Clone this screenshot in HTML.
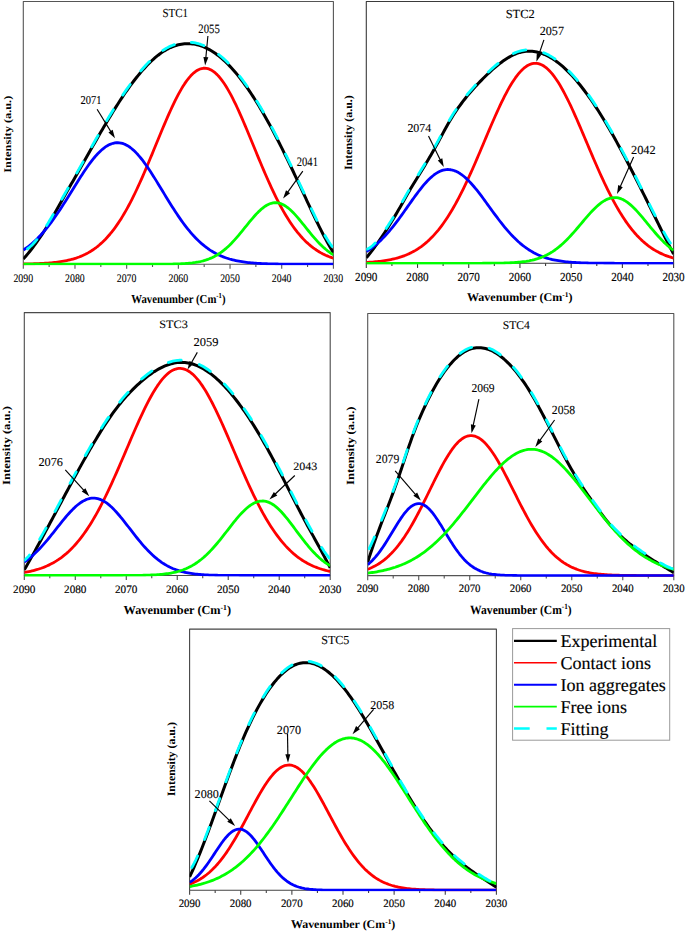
<!DOCTYPE html>
<html><head><meta charset="utf-8"><title>STC spectra</title><style>html,body{margin:0;padding:0;background:#fff;}svg{display:block;}</style></head><body>
<svg width="685" height="931" viewBox="0 0 685 931" style="font-family:'Liberation Serif',serif;text-rendering:geometricPrecision">
<defs>
<clipPath id="clipSTC1"><rect x="23.30" y="-0.50" width="310.10" height="265.80"/></clipPath>
<clipPath id="clipSTC2"><rect x="366.30" y="-0.50" width="307.30" height="264.90"/></clipPath>
<clipPath id="clipSTC3"><rect x="24.30" y="310.60" width="305.90" height="266.00"/></clipPath>
<clipPath id="clipSTC4"><rect x="367.70" y="311.50" width="306.10" height="265.20"/></clipPath>
<clipPath id="clipSTC5"><rect x="189.60" y="627.10" width="306.80" height="264.20"/></clipPath>
</defs>
<rect x="23.30" y="1.50" width="310.10" height="262.70" fill="none" stroke="#555" stroke-width="1.1" stroke-linejoin="round"/>
<line x1="23.30" y1="264.20" x2="23.30" y2="268.80" stroke="#555" stroke-width="1.1"/>
<line x1="49.14" y1="264.20" x2="49.14" y2="267.00" stroke="#555" stroke-width="1.1"/>
<line x1="74.98" y1="264.20" x2="74.98" y2="268.80" stroke="#555" stroke-width="1.1"/>
<line x1="100.82" y1="264.20" x2="100.82" y2="267.00" stroke="#555" stroke-width="1.1"/>
<line x1="126.67" y1="264.20" x2="126.67" y2="268.80" stroke="#555" stroke-width="1.1"/>
<line x1="152.51" y1="264.20" x2="152.51" y2="267.00" stroke="#555" stroke-width="1.1"/>
<line x1="178.35" y1="264.20" x2="178.35" y2="268.80" stroke="#555" stroke-width="1.1"/>
<line x1="204.19" y1="264.20" x2="204.19" y2="267.00" stroke="#555" stroke-width="1.1"/>
<line x1="230.03" y1="264.20" x2="230.03" y2="268.80" stroke="#555" stroke-width="1.1"/>
<line x1="255.87" y1="264.20" x2="255.87" y2="267.00" stroke="#555" stroke-width="1.1"/>
<line x1="281.72" y1="264.20" x2="281.72" y2="268.80" stroke="#555" stroke-width="1.1"/>
<line x1="307.56" y1="264.20" x2="307.56" y2="267.00" stroke="#555" stroke-width="1.1"/>
<line x1="333.40" y1="264.20" x2="333.40" y2="268.80" stroke="#555" stroke-width="1.1"/>
<g clip-path="url(#clipSTC1)" fill="none" stroke-linejoin="round">
<path d="M23.30,259.05 L24.85,257.28 L26.40,255.48 L27.95,253.62 L29.50,251.72 L31.05,249.77 L32.60,247.77 L34.15,245.72 L35.70,243.62 L37.25,241.47 L38.80,239.25 L40.36,236.99 L41.91,234.66 L43.46,232.27 L45.01,229.82 L46.56,227.31 L48.11,224.75 L49.66,222.12 L51.21,219.46 L52.76,216.76 L54.31,214.03 L55.86,211.28 L57.41,208.52 L58.96,205.75 L60.51,202.98 L62.06,200.22 L63.61,197.47 L65.16,194.73 L66.71,192.00 L68.26,189.28 L69.81,186.57 L71.37,183.85 L72.92,181.14 L74.47,178.43 L76.02,175.72 L77.57,173.00 L79.12,170.28 L80.67,167.55 L82.22,164.82 L83.77,162.08 L85.32,159.33 L86.87,156.59 L88.42,153.84 L89.97,151.10 L91.52,148.36 L93.07,145.63 L94.62,142.90 L96.17,140.18 L97.72,137.48 L99.27,134.78 L100.82,132.10 L102.38,129.44 L103.93,126.79 L105.48,124.16 L107.03,121.55 L108.58,118.96 L110.13,116.39 L111.68,113.85 L113.23,111.33 L114.78,108.84 L116.33,106.38 L117.88,103.94 L119.43,101.54 L120.98,99.17 L122.53,96.83 L124.08,94.53 L125.63,92.26 L127.18,90.03 L128.73,87.85 L130.28,85.70 L131.83,83.59 L133.39,81.53 L134.94,79.51 L136.49,77.54 L138.04,75.61 L139.59,73.73 L141.14,71.90 L142.69,70.11 L144.24,68.38 L145.79,66.70 L147.34,65.06 L148.89,63.49 L150.44,61.96 L151.99,60.50 L153.54,59.08 L155.09,57.73 L156.64,56.43 L158.19,55.19 L159.74,54.01 L161.29,52.90 L162.84,51.84 L164.40,50.85 L165.95,49.92 L167.50,49.05 L169.05,48.26 L170.60,47.52 L172.15,46.85 L173.70,46.24 L175.25,45.70 L176.80,45.22 L178.35,44.80 L179.90,44.45 L181.45,44.16 L183.00,43.94 L184.55,43.77 L186.10,43.67 L187.65,43.64 L189.20,43.66 L190.75,43.75 L192.30,43.90 L193.85,44.12 L195.41,44.39 L196.96,44.73 L198.51,45.13 L200.06,45.59 L201.61,46.11 L203.16,46.69 L204.71,47.34 L206.26,48.04 L207.81,48.81 L209.36,49.64 L210.91,50.53 L212.46,51.48 L214.01,52.49 L215.56,53.56 L217.11,54.69 L218.66,55.88 L220.21,57.13 L221.76,58.44 L223.31,59.81 L224.86,61.23 L226.42,62.72 L227.97,64.26 L229.52,65.85 L231.07,67.50 L232.62,69.21 L234.17,70.97 L235.72,72.78 L237.27,74.65 L238.82,76.57 L240.37,78.54 L241.92,80.56 L243.47,82.63 L245.02,84.76 L246.57,86.93 L248.12,89.15 L249.67,91.42 L251.22,93.74 L252.77,96.10 L254.32,98.51 L255.87,100.97 L257.43,103.47 L258.98,106.02 L260.53,108.61 L262.08,111.24 L263.63,113.92 L265.18,116.64 L266.73,119.40 L268.28,122.20 L269.83,125.03 L271.38,127.91 L272.93,130.82 L274.48,133.76 L276.03,136.74 L277.58,139.75 L279.13,142.79 L280.68,145.86 L282.23,148.95 L283.78,152.07 L285.33,155.22 L286.88,158.39 L288.44,161.58 L289.99,164.79 L291.54,168.02 L293.09,171.27 L294.64,174.53 L296.19,177.82 L297.74,181.11 L299.29,184.42 L300.84,187.73 L302.39,191.06 L303.94,194.40 L305.49,197.74 L307.04,201.07 L308.59,204.40 L310.14,207.72 L311.69,211.02 L313.24,214.29 L314.79,217.54 L316.34,220.76 L317.89,223.94 L319.45,227.08 L321.00,230.17 L322.55,233.21 L324.10,236.19 L325.65,239.10 L327.20,241.95 L328.75,244.73 L330.30,247.43 L331.85,250.04 L333.40,252.57" stroke="#000" stroke-width="3.0"/>
<path d="M23.30,264.00 L24.85,263.98 L26.40,263.95 L27.95,263.92 L29.50,263.88 L31.05,263.85 L32.60,263.80 L34.15,263.76 L35.70,263.71 L37.25,263.65 L38.80,263.59 L40.36,263.52 L41.91,263.44 L43.46,263.35 L45.01,263.26 L46.56,263.16 L48.11,263.05 L49.66,262.92 L51.21,262.79 L52.76,262.64 L54.31,262.48 L55.86,262.30 L57.41,262.11 L58.96,261.90 L60.51,261.68 L62.06,261.43 L63.61,261.16 L65.16,260.87 L66.71,260.56 L68.26,260.22 L69.81,259.85 L71.37,259.46 L72.92,259.03 L74.47,258.57 L76.02,258.08 L77.57,257.55 L79.12,256.98 L80.67,256.37 L82.22,255.71 L83.77,255.01 L85.32,254.27 L86.87,253.47 L88.42,252.62 L89.97,251.72 L91.52,250.76 L93.07,249.74 L94.62,248.66 L96.17,247.52 L97.72,246.31 L99.27,245.03 L100.82,243.68 L102.38,242.26 L103.93,240.76 L105.48,239.19 L107.03,237.54 L108.58,235.80 L110.13,233.99 L111.68,232.09 L113.23,230.11 L114.78,228.04 L116.33,225.88 L117.88,223.64 L119.43,221.31 L120.98,218.89 L122.53,216.38 L124.08,213.78 L125.63,211.10 L127.18,208.33 L128.73,205.48 L130.28,202.54 L131.83,199.52 L133.39,196.42 L134.94,193.24 L136.49,189.99 L138.04,186.67 L139.59,183.28 L141.14,179.83 L142.69,176.32 L144.24,172.76 L145.79,169.15 L147.34,165.50 L148.89,161.80 L150.44,158.08 L151.99,154.34 L153.54,150.57 L155.09,146.80 L156.64,143.02 L158.19,139.25 L159.74,135.49 L161.29,131.75 L162.84,128.04 L164.40,124.37 L165.95,120.74 L167.50,117.17 L169.05,113.66 L170.60,110.22 L172.15,106.87 L173.70,103.60 L175.25,100.43 L176.80,97.36 L178.35,94.41 L179.90,91.59 L181.45,88.89 L183.00,86.33 L184.55,83.91 L186.10,81.65 L187.65,79.54 L189.20,77.60 L190.75,75.82 L192.30,74.23 L193.85,72.81 L195.41,71.57 L196.96,70.53 L198.51,69.67 L200.06,69.01 L201.61,68.54 L203.16,68.27 L204.71,68.20 L206.26,68.33 L207.81,68.65 L209.36,69.17 L210.91,69.88 L212.46,70.79 L214.01,71.89 L215.56,73.17 L217.11,74.64 L218.66,76.28 L220.21,78.10 L221.76,80.09 L223.31,82.24 L224.86,84.54 L226.42,87.00 L227.97,89.60 L229.52,92.33 L231.07,95.20 L232.62,98.18 L234.17,101.27 L235.72,104.47 L237.27,107.76 L238.82,111.14 L240.37,114.60 L241.92,118.13 L243.47,121.71 L245.02,125.35 L246.57,129.04 L248.12,132.76 L249.67,136.50 L251.22,140.26 L252.77,144.04 L254.32,147.82 L255.87,151.59 L257.43,155.35 L258.98,159.09 L260.53,162.80 L262.08,166.48 L263.63,170.13 L265.18,173.72 L266.73,177.27 L268.28,180.77 L269.83,184.20 L271.38,187.57 L272.93,190.87 L274.48,194.10 L276.03,197.26 L277.58,200.34 L279.13,203.34 L280.68,206.25 L282.23,209.08 L283.78,211.83 L285.33,214.49 L286.88,217.06 L288.44,219.55 L289.99,221.94 L291.54,224.25 L293.09,226.47 L294.64,228.60 L296.19,230.65 L297.74,232.61 L299.29,234.48 L300.84,236.28 L302.39,237.99 L303.94,239.62 L305.49,241.17 L307.04,242.65 L308.59,244.05 L310.14,245.38 L311.69,246.64 L313.24,247.83 L314.79,248.96 L316.34,250.02 L317.89,251.02 L319.45,251.97 L321.00,252.86 L322.55,253.69 L324.10,254.47 L325.65,255.21 L327.20,255.89 L328.75,256.53 L330.30,257.13 L331.85,257.69 L333.40,258.21" stroke="#ff0000" stroke-width="2.8"/>
<path d="M23.30,250.01 L24.85,248.99 L26.40,247.90 L27.95,246.76 L29.50,245.56 L31.05,244.30 L32.60,242.98 L34.15,241.60 L35.70,240.15 L37.25,238.65 L38.80,237.08 L40.36,235.44 L41.91,233.75 L43.46,231.99 L45.01,230.17 L46.56,228.29 L48.11,226.35 L49.66,224.35 L51.21,222.30 L52.76,220.19 L54.31,218.02 L55.86,215.81 L57.41,213.55 L58.96,211.24 L60.51,208.90 L62.06,206.52 L63.61,204.10 L65.16,201.66 L66.71,199.19 L68.26,196.70 L69.81,194.20 L71.37,191.70 L72.92,189.19 L74.47,186.68 L76.02,184.18 L77.57,181.69 L79.12,179.23 L80.67,176.80 L82.22,174.40 L83.77,172.04 L85.32,169.73 L86.87,167.48 L88.42,165.28 L89.97,163.16 L91.52,161.10 L93.07,159.13 L94.62,157.25 L96.17,155.45 L97.72,153.76 L99.27,152.17 L100.82,150.68 L102.38,149.31 L103.93,148.06 L105.48,146.94 L107.03,145.94 L108.58,145.07 L110.13,144.33 L111.68,143.72 L113.23,143.26 L114.78,142.93 L116.33,142.75 L117.88,142.70 L119.43,142.80 L120.98,143.05 L122.53,143.44 L124.08,143.98 L125.63,144.65 L127.18,145.47 L128.73,146.43 L130.28,147.52 L131.83,148.73 L133.39,150.08 L134.94,151.54 L136.49,153.12 L138.04,154.81 L139.59,156.60 L141.14,158.50 L142.69,160.48 L144.24,162.55 L145.79,164.70 L147.34,166.92 L148.89,169.21 L150.44,171.55 L151.99,173.95 L153.54,176.39 L155.09,178.87 L156.64,181.37 L158.19,183.90 L159.74,186.45 L161.29,189.01 L162.84,191.57 L164.40,194.13 L165.95,196.68 L167.50,199.22 L169.05,201.73 L170.60,204.23 L172.15,206.69 L173.70,209.12 L175.25,211.50 L176.80,213.85 L178.35,216.15 L179.90,218.40 L181.45,220.60 L183.00,222.74 L184.55,224.82 L186.10,226.85 L187.65,228.81 L189.20,230.71 L190.75,232.55 L192.30,234.32 L193.85,236.03 L195.41,237.67 L196.96,239.25 L198.51,240.76 L200.06,242.20 L201.61,243.59 L203.16,244.90 L204.71,246.16 L206.26,247.35 L207.81,248.49 L209.36,249.56 L210.91,250.58 L212.46,251.55 L214.01,252.45 L215.56,253.31 L217.11,254.12 L218.66,254.88 L220.21,255.59 L221.76,256.25 L223.31,256.88 L224.86,257.46 L226.42,258.01 L227.97,258.51 L229.52,258.99 L231.07,259.42 L232.62,259.83 L234.17,260.21 L235.72,260.56 L237.27,260.88 L238.82,261.18 L240.37,261.45 L241.92,261.70 L243.47,261.94 L245.02,262.15 L246.57,262.34 L248.12,262.52 L249.67,262.69 L251.22,262.83 L252.77,262.97 L254.32,263.09 L255.87,263.21 L257.43,263.31 L258.98,263.40 L260.53,263.48 L262.08,263.56 L263.63,263.63 L265.18,263.69 L266.73,263.75 L268.28,263.80 L269.83,263.84 L271.38,263.88 L272.93,263.92 L274.48,263.95 L276.03,263.98 L277.58,264.00 L279.13,264.03 L280.68,264.05 L282.23,264.07 L283.78,264.08 L285.33,264.10 L286.88,264.11 L288.44,264.12 L289.99,264.13 L291.54,264.14 L293.09,264.15 L294.64,264.15 L296.19,264.16 L297.74,264.17 L299.29,264.17 L300.84,264.17 L302.39,264.18 L303.94,264.18 L305.49,264.18 L307.04,264.19 L308.59,264.19 L310.14,264.19 L311.69,264.19 L313.24,264.19 L314.79,264.19 L316.34,264.19 L317.89,264.19 L319.45,264.20 L321.00,264.20 L322.55,264.20 L324.10,264.20 L325.65,264.20 L327.20,264.20 L328.75,264.20 L330.30,264.20 L331.85,264.20 L333.40,264.20" stroke="#0000ff" stroke-width="2.8"/>
<path d="M23.30,264.20 L24.85,264.20 L26.40,264.20 L27.95,264.20 L29.50,264.20 L31.05,264.20 L32.60,264.20 L34.15,264.20 L35.70,264.20 L37.25,264.20 L38.80,264.20 L40.36,264.20 L41.91,264.20 L43.46,264.20 L45.01,264.20 L46.56,264.20 L48.11,264.20 L49.66,264.20 L51.21,264.20 L52.76,264.20 L54.31,264.20 L55.86,264.20 L57.41,264.20 L58.96,264.20 L60.51,264.20 L62.06,264.20 L63.61,264.20 L65.16,264.20 L66.71,264.20 L68.26,264.20 L69.81,264.20 L71.37,264.20 L72.92,264.20 L74.47,264.20 L76.02,264.20 L77.57,264.20 L79.12,264.20 L80.67,264.20 L82.22,264.20 L83.77,264.20 L85.32,264.20 L86.87,264.20 L88.42,264.20 L89.97,264.20 L91.52,264.20 L93.07,264.20 L94.62,264.20 L96.17,264.20 L97.72,264.20 L99.27,264.20 L100.82,264.20 L102.38,264.20 L103.93,264.20 L105.48,264.20 L107.03,264.20 L108.58,264.20 L110.13,264.20 L111.68,264.20 L113.23,264.20 L114.78,264.20 L116.33,264.20 L117.88,264.20 L119.43,264.20 L120.98,264.20 L122.53,264.20 L124.08,264.20 L125.63,264.20 L127.18,264.20 L128.73,264.20 L130.28,264.20 L131.83,264.20 L133.39,264.20 L134.94,264.20 L136.49,264.20 L138.04,264.20 L139.59,264.20 L141.14,264.20 L142.69,264.20 L144.24,264.20 L145.79,264.19 L147.34,264.19 L148.89,264.19 L150.44,264.19 L151.99,264.19 L153.54,264.18 L155.09,264.18 L156.64,264.18 L158.19,264.17 L159.74,264.16 L161.29,264.16 L162.84,264.15 L164.40,264.14 L165.95,264.12 L167.50,264.11 L169.05,264.09 L170.60,264.06 L172.15,264.04 L173.70,264.01 L175.25,263.97 L176.80,263.93 L178.35,263.88 L179.90,263.82 L181.45,263.75 L183.00,263.67 L184.55,263.58 L186.10,263.47 L187.65,263.35 L189.20,263.22 L190.75,263.06 L192.30,262.89 L193.85,262.68 L195.41,262.46 L196.96,262.20 L198.51,261.92 L200.06,261.60 L201.61,261.24 L203.16,260.84 L204.71,260.40 L206.26,259.91 L207.81,259.38 L209.36,258.79 L210.91,258.14 L212.46,257.44 L214.01,256.67 L215.56,255.84 L217.11,254.95 L218.66,253.98 L220.21,252.94 L221.76,251.84 L223.31,250.65 L224.86,249.40 L226.42,248.07 L227.97,246.67 L229.52,245.20 L231.07,243.66 L232.62,242.06 L234.17,240.39 L235.72,238.67 L237.27,236.90 L238.82,235.08 L240.37,233.22 L241.92,231.33 L243.47,229.42 L245.02,227.49 L246.57,225.57 L248.12,223.65 L249.67,221.74 L251.22,219.87 L252.77,218.04 L254.32,216.26 L255.87,214.55 L257.43,212.91 L258.98,211.36 L260.53,209.90 L262.08,208.56 L263.63,207.33 L265.18,206.23 L266.73,205.27 L268.28,204.46 L269.83,203.79 L271.38,203.28 L272.93,202.93 L274.48,202.74 L276.03,202.71 L277.58,202.85 L279.13,203.16 L280.68,203.62 L282.23,204.25 L283.78,205.03 L285.33,205.96 L286.88,207.03 L288.44,208.23 L289.99,209.55 L291.54,210.99 L293.09,212.53 L294.64,214.16 L296.19,215.87 L297.74,217.65 L299.29,219.48 L300.84,221.36 L302.39,223.27 L303.94,225.20 L305.49,227.14 L307.04,229.08 L308.59,231.00 L310.14,232.91 L311.69,234.79 L313.24,236.62 L314.79,238.42 L316.34,240.16 L317.89,241.84 L319.45,243.47 L321.00,245.02 L322.55,246.51 L324.10,247.93 L325.65,249.27 L327.20,250.54 L328.75,251.74 L330.30,252.86 L331.85,253.91 L333.40,254.89" stroke="#00ff00" stroke-width="2.8"/>
<path d="M23.30,250.30 L24.85,250.00 L26.40,249.36 L27.95,248.44 L29.50,247.29 L31.05,245.95 L32.60,244.43 L34.15,242.77 L35.70,240.97 L37.25,239.07 L38.80,237.05 L40.36,234.94 L41.91,232.74 L43.46,230.46 L45.01,228.09 L46.56,225.65 L48.11,223.13 L49.66,220.55 L51.21,217.92 L52.76,215.25 L54.31,212.54 L55.86,209.81 L57.41,207.06 L58.96,204.30 L60.51,201.54 L62.06,198.79 L63.61,196.05 L65.16,193.31 L66.71,190.59 L68.26,187.87 L69.81,185.16 L71.37,182.45 L72.92,179.74 L74.47,177.03 L76.02,174.31 L77.57,171.60 L79.12,168.88 L80.67,166.15 L82.22,163.41 L83.77,160.67 L85.32,157.93 L86.87,155.19 L88.42,152.44 L89.97,149.70 L91.52,146.96 L93.07,144.23 L94.62,141.50 L96.17,138.78 L97.72,136.08 L99.27,133.38 L100.82,130.70 L102.38,128.04 L103.93,125.39 L105.48,122.76 L107.03,120.15 L108.58,117.56 L110.13,114.99 L111.68,112.45 L113.23,109.93 L114.78,107.44 L116.33,104.98 L117.88,102.54 L119.43,100.14 L120.98,97.77 L122.53,95.43 L124.08,93.13 L125.63,90.86 L127.18,88.63 L128.73,86.45 L130.28,84.30 L131.83,82.19 L133.39,80.13 L134.94,78.11 L136.49,76.14 L138.04,74.21 L139.59,72.33 L141.14,70.50 L142.69,68.71 L144.24,66.98 L145.79,65.30 L147.34,63.66 L148.89,62.09 L150.44,60.56 L151.99,59.10 L153.54,57.68 L155.09,56.33 L156.64,55.03 L158.19,53.79 L159.74,52.61 L161.29,51.50 L162.84,50.44 L164.40,49.45 L165.95,48.52 L167.50,47.65 L169.05,46.86 L170.60,46.12 L172.15,45.45 L173.70,44.84 L175.25,44.30 L176.80,43.82 L178.35,43.40 L179.90,43.05 L181.45,42.76 L183.00,42.54 L184.55,42.37 L186.10,42.27 L187.65,42.24 L189.20,42.26 L190.75,42.35 L192.30,42.50 L193.85,42.72 L195.41,42.99 L196.96,43.33 L198.51,43.73 L200.06,44.19 L201.61,44.71 L203.16,45.29 L204.71,45.94 L206.26,46.64 L207.81,47.41 L209.36,48.24 L210.91,49.13 L212.46,50.08 L214.01,51.09 L215.56,52.16 L217.11,53.29 L218.66,54.48 L220.21,55.73 L221.76,57.04 L223.31,58.41 L224.86,59.83 L226.42,61.32 L227.97,62.86 L229.52,64.45 L231.07,66.10 L232.62,67.81 L234.17,69.57 L235.72,71.38 L237.27,73.25 L238.82,75.17 L240.37,77.14 L241.92,79.16 L243.47,81.23 L245.02,83.36 L246.57,85.53 L248.12,87.75 L249.67,90.02 L251.22,92.34 L252.77,94.70 L254.32,97.11 L255.87,99.57 L257.43,102.07 L258.98,104.62 L260.53,107.21 L262.08,109.84 L263.63,112.52 L265.18,115.24 L266.73,118.00 L268.28,120.80 L269.83,123.63 L271.38,126.51 L272.93,129.42 L274.48,132.36 L276.03,135.34 L277.58,138.35 L279.13,141.39 L280.68,144.45 L282.23,147.55 L283.78,150.67 L285.33,153.81 L286.88,156.98 L288.44,160.17 L289.99,163.38 L291.54,166.61 L293.09,169.86 L294.64,173.12 L296.19,176.40 L297.74,179.69 L299.29,182.99 L300.84,186.31 L302.39,189.63 L303.94,192.95 L305.49,196.28 L307.04,199.60 L308.59,202.91 L310.14,206.21 L311.69,209.48 L313.24,212.72 L314.79,215.93 L316.34,219.09 L317.89,222.21 L319.45,225.26 L321.00,228.25 L322.55,231.15 L324.10,233.97 L325.65,236.69 L327.20,239.29 L328.75,241.75 L330.30,244.05 L331.85,246.18 L333.40,248.10" stroke="#00ffff" stroke-width="2.8" stroke-dasharray="13.00 17.20" stroke-dashoffset="-4.60" stroke-linecap="round"/>
</g>
<text transform="translate(162.44,16.90) scale(0.8943,1)" font-size="12.273" font-weight="normal" fill="#000"  stroke="#000" stroke-width="0.1">STC1</text>
<text transform="translate(198.37,32.60) scale(0.8427,1)" font-size="12.727" font-weight="normal" fill="#000"  stroke="#000" stroke-width="0.1">2055</text>
<line x1="207.90" y1="36.00" x2="205.76" y2="58.63" stroke="#000" stroke-width="1.15"/><polygon points="205.10,65.60 203.41,56.90 208.39,57.37" fill="#000"/>
<text transform="translate(80.58,104.10) scale(0.8750,1)" font-size="11.970" font-weight="normal" fill="#000"  stroke="#000" stroke-width="0.1">2071</text>
<line x1="97.10" y1="109.30" x2="111.32" y2="132.34" stroke="#000" stroke-width="1.15"/><polygon points="115.00,138.30 108.41,132.38 112.66,129.75" fill="#000"/>
<text transform="translate(296.78,165.80) scale(0.8312,1)" font-size="12.727" font-weight="normal" fill="#000"  stroke="#000" stroke-width="0.1">2041</text>
<line x1="302.80" y1="171.20" x2="287.19" y2="192.92" stroke="#000" stroke-width="1.15"/><polygon points="283.10,198.60 286.03,190.24 290.09,193.16" fill="#000"/>
<text transform="translate(13.41,281.80) scale(0.8549,1)" font-size="11.515" font-weight="normal" fill="#000"  stroke="#000" stroke-width="0.1">2090</text>
<text transform="translate(65.09,281.80) scale(0.8549,1)" font-size="11.515" font-weight="normal" fill="#000"  stroke="#000" stroke-width="0.1">2080</text>
<text transform="translate(116.77,281.80) scale(0.8549,1)" font-size="11.515" font-weight="normal" fill="#000"  stroke="#000" stroke-width="0.1">2070</text>
<text transform="translate(168.46,281.80) scale(0.8549,1)" font-size="11.515" font-weight="normal" fill="#000"  stroke="#000" stroke-width="0.1">2060</text>
<text transform="translate(220.14,281.80) scale(0.8549,1)" font-size="11.515" font-weight="normal" fill="#000"  stroke="#000" stroke-width="0.1">2050</text>
<text transform="translate(271.82,281.80) scale(0.8549,1)" font-size="11.515" font-weight="normal" fill="#000"  stroke="#000" stroke-width="0.1">2040</text>
<text transform="translate(323.51,281.80) scale(0.8549,1)" font-size="11.515" font-weight="normal" fill="#000"  stroke="#000" stroke-width="0.1">2030</text>
<text transform="translate(131.29,302.80) scale(0.8872,1)" font-size="12.154" font-weight="bold">Wavenumber (Cm<tspan font-size="7.54" dy="-4.38">-1</tspan><tspan dy="4.38">)</tspan></text>
<text transform="translate(11.00,172.67) rotate(-90) scale(1.1992,1)" font-size="10.286" font-weight="bold">Intensity (a.u.)</text>
<rect x="366.30" y="1.50" width="307.30" height="261.80" fill="none" stroke="#3a3a3a" stroke-width="1.1" stroke-linejoin="round"/>
<line x1="366.30" y1="263.30" x2="366.30" y2="267.90" stroke="#3a3a3a" stroke-width="1.1"/>
<line x1="391.91" y1="263.30" x2="391.91" y2="266.10" stroke="#3a3a3a" stroke-width="1.1"/>
<line x1="417.52" y1="263.30" x2="417.52" y2="267.90" stroke="#3a3a3a" stroke-width="1.1"/>
<line x1="443.12" y1="263.30" x2="443.12" y2="266.10" stroke="#3a3a3a" stroke-width="1.1"/>
<line x1="468.73" y1="263.30" x2="468.73" y2="267.90" stroke="#3a3a3a" stroke-width="1.1"/>
<line x1="494.34" y1="263.30" x2="494.34" y2="266.10" stroke="#3a3a3a" stroke-width="1.1"/>
<line x1="519.95" y1="263.30" x2="519.95" y2="267.90" stroke="#3a3a3a" stroke-width="1.1"/>
<line x1="545.56" y1="263.30" x2="545.56" y2="266.10" stroke="#3a3a3a" stroke-width="1.1"/>
<line x1="571.17" y1="263.30" x2="571.17" y2="267.90" stroke="#3a3a3a" stroke-width="1.1"/>
<line x1="596.78" y1="263.30" x2="596.78" y2="266.10" stroke="#3a3a3a" stroke-width="1.1"/>
<line x1="622.38" y1="263.30" x2="622.38" y2="267.90" stroke="#3a3a3a" stroke-width="1.1"/>
<line x1="647.99" y1="263.30" x2="647.99" y2="266.10" stroke="#3a3a3a" stroke-width="1.1"/>
<line x1="673.60" y1="263.30" x2="673.60" y2="267.90" stroke="#3a3a3a" stroke-width="1.1"/>
<g clip-path="url(#clipSTC2)" fill="none" stroke-linejoin="round">
<path d="M366.30,257.83 L367.84,255.95 L369.37,254.02 L370.91,252.05 L372.45,250.04 L373.98,247.99 L375.52,245.89 L377.06,243.76 L378.59,241.58 L380.13,239.36 L381.67,237.11 L383.20,234.81 L384.74,232.48 L386.27,230.11 L387.81,227.70 L389.35,225.26 L390.88,222.78 L392.42,220.26 L393.96,217.71 L395.49,215.12 L397.03,212.50 L398.57,209.85 L400.10,207.17 L401.64,204.45 L403.18,201.73 L404.71,199.00 L406.25,196.28 L407.79,193.59 L409.32,190.94 L410.86,188.34 L412.39,185.78 L413.93,183.24 L415.47,180.73 L417.00,178.22 L418.54,175.71 L420.08,173.20 L421.61,170.67 L423.15,168.14 L424.69,165.60 L426.22,163.03 L427.76,160.45 L429.30,157.84 L430.83,155.20 L432.37,152.53 L433.91,149.83 L435.44,147.08 L436.98,144.30 L438.52,141.47 L440.05,138.60 L441.59,135.72 L443.12,132.83 L444.66,129.98 L446.20,127.16 L447.73,124.41 L449.27,121.74 L450.81,119.16 L452.34,116.68 L453.88,114.27 L455.42,111.94 L456.95,109.68 L458.49,107.48 L460.03,105.33 L461.56,103.24 L463.10,101.21 L464.64,99.22 L466.17,97.28 L467.71,95.39 L469.25,93.54 L470.78,91.73 L472.32,89.97 L473.86,88.24 L475.39,86.54 L476.93,84.88 L478.46,83.25 L480.00,81.65 L481.54,80.08 L483.07,78.53 L484.61,77.00 L486.15,75.50 L487.68,74.02 L489.22,72.57 L490.76,71.15 L492.29,69.75 L493.83,68.39 L495.37,67.07 L496.90,65.79 L498.44,64.54 L499.98,63.34 L501.51,62.18 L503.05,61.06 L504.59,59.99 L506.12,58.98 L507.66,58.01 L509.19,57.11 L510.73,56.25 L512.27,55.46 L513.80,54.72 L515.34,54.05 L516.88,53.45 L518.41,52.91 L519.95,52.44 L521.49,52.04 L523.02,51.72 L524.56,51.47 L526.10,51.29 L527.63,51.18 L529.17,51.14 L530.71,51.18 L532.24,51.28 L533.78,51.45 L535.32,51.69 L536.85,51.99 L538.39,52.36 L539.92,52.80 L541.46,53.30 L543.00,53.87 L544.53,54.50 L546.07,55.19 L547.61,55.95 L549.14,56.76 L550.68,57.64 L552.22,58.58 L553.75,59.57 L555.29,60.63 L556.83,61.74 L558.36,62.90 L559.90,64.13 L561.44,65.41 L562.97,66.74 L564.51,68.13 L566.05,69.57 L567.58,71.06 L569.12,72.61 L570.65,74.20 L572.19,75.85 L573.73,77.55 L575.26,79.29 L576.80,81.08 L578.34,82.92 L579.87,84.81 L581.41,86.74 L582.95,88.72 L584.48,90.74 L586.02,92.80 L587.56,94.91 L589.09,97.06 L590.63,99.25 L592.17,101.48 L593.70,103.75 L595.24,106.06 L596.77,108.41 L598.31,110.80 L599.85,113.22 L601.38,115.68 L602.92,118.18 L604.46,120.71 L605.99,123.27 L607.53,125.87 L609.07,128.50 L610.60,131.16 L612.14,133.86 L613.68,136.58 L615.21,139.33 L616.75,142.12 L618.29,144.93 L619.82,147.76 L621.36,150.62 L622.90,153.50 L624.43,156.41 L625.97,159.34 L627.50,162.29 L629.04,165.25 L630.58,168.24 L632.11,171.24 L633.65,174.25 L635.19,177.28 L636.72,180.33 L638.26,183.38 L639.80,186.45 L641.33,189.52 L642.87,192.61 L644.41,195.70 L645.94,198.79 L647.48,201.90 L649.02,205.00 L650.55,208.11 L652.09,211.22 L653.63,214.32 L655.16,217.43 L656.70,220.53 L658.24,223.63 L659.77,226.73 L661.31,229.82 L662.84,232.90 L664.38,235.97 L665.92,239.04 L667.45,242.09 L668.99,245.13 L670.53,248.16 L672.06,251.17 L673.60,254.17" stroke="#000" stroke-width="3.0"/>
<path d="M366.30,262.44 L367.84,262.35 L369.37,262.25 L370.91,262.15 L372.45,262.03 L373.98,261.90 L375.52,261.76 L377.06,261.61 L378.59,261.45 L380.13,261.27 L381.67,261.08 L383.20,260.87 L384.74,260.65 L386.27,260.41 L387.81,260.14 L389.35,259.86 L390.88,259.56 L392.42,259.23 L393.96,258.87 L395.49,258.49 L397.03,258.08 L398.57,257.65 L400.10,257.18 L401.64,256.68 L403.18,256.14 L404.71,255.57 L406.25,254.95 L407.79,254.30 L409.32,253.61 L410.86,252.87 L412.39,252.09 L413.93,251.25 L415.47,250.37 L417.00,249.44 L418.54,248.45 L420.08,247.40 L421.61,246.30 L423.15,245.14 L424.69,243.91 L426.22,242.62 L427.76,241.27 L429.30,239.85 L430.83,238.35 L432.37,236.79 L433.91,235.15 L435.44,233.44 L436.98,231.66 L438.52,229.80 L440.05,227.86 L441.59,225.84 L443.12,223.74 L444.66,221.56 L446.20,219.31 L447.73,216.97 L449.27,214.55 L450.81,212.05 L452.34,209.48 L453.88,206.82 L455.42,204.08 L456.95,201.27 L458.49,198.39 L460.03,195.43 L461.56,192.40 L463.10,189.30 L464.64,186.14 L466.17,182.91 L467.71,179.63 L469.25,176.28 L470.78,172.89 L472.32,169.45 L473.86,165.96 L475.39,162.44 L476.93,158.88 L478.46,155.29 L480.00,151.69 L481.54,148.06 L483.07,144.42 L484.61,140.78 L486.15,137.15 L487.68,133.52 L489.22,129.90 L490.76,126.31 L492.29,122.75 L493.83,119.23 L495.37,115.75 L496.90,112.33 L498.44,108.96 L499.98,105.66 L501.51,102.43 L503.05,99.29 L504.59,96.24 L506.12,93.28 L507.66,90.42 L509.19,87.68 L510.73,85.05 L512.27,82.55 L513.80,80.17 L515.34,77.93 L516.88,75.84 L518.41,73.89 L519.95,72.09 L521.49,70.45 L523.02,68.97 L524.56,67.65 L526.10,66.51 L527.63,65.53 L529.17,64.73 L530.71,64.10 L532.24,63.66 L533.78,63.39 L535.32,63.30 L536.85,63.39 L538.39,63.66 L539.92,64.11 L541.46,64.74 L543.00,65.55 L544.53,66.53 L546.07,67.68 L547.61,69.00 L549.14,70.48 L550.68,72.12 L552.22,73.92 L553.75,75.88 L555.29,77.98 L556.83,80.22 L558.36,82.59 L559.90,85.10 L561.44,87.73 L562.97,90.48 L564.51,93.33 L566.05,96.29 L567.58,99.35 L569.12,102.50 L570.65,105.72 L572.19,109.02 L573.73,112.39 L575.26,115.82 L576.80,119.30 L578.34,122.82 L579.87,126.38 L581.41,129.97 L582.95,133.59 L584.48,137.22 L586.02,140.86 L587.56,144.50 L589.09,148.13 L590.63,151.76 L592.17,155.36 L593.70,158.95 L595.24,162.51 L596.77,166.03 L598.31,169.51 L599.85,172.96 L601.38,176.35 L602.92,179.69 L604.46,182.98 L605.99,186.20 L607.53,189.36 L609.07,192.46 L610.60,195.49 L612.14,198.45 L613.68,201.33 L615.21,204.14 L616.75,206.87 L618.29,209.53 L619.82,212.10 L621.36,214.60 L622.90,217.02 L624.43,219.35 L625.97,221.61 L627.50,223.78 L629.04,225.88 L630.58,227.90 L632.11,229.83 L633.65,231.69 L635.19,233.48 L636.72,235.19 L638.26,236.82 L639.80,238.38 L641.33,239.87 L642.87,241.30 L644.41,242.65 L645.94,243.94 L647.48,245.16 L649.02,246.32 L650.55,247.42 L652.09,248.47 L653.63,249.46 L655.16,250.39 L656.70,251.27 L658.24,252.10 L659.77,252.89 L661.31,253.62 L662.84,254.32 L664.38,254.97 L665.92,255.58 L667.45,256.15 L668.99,256.69 L670.53,257.19 L672.06,257.66 L673.60,258.09" stroke="#ff0000" stroke-width="2.8"/>
<path d="M366.30,251.53 L367.84,250.58 L369.37,249.58 L370.91,248.51 L372.45,247.39 L373.98,246.21 L375.52,244.97 L377.06,243.67 L378.59,242.30 L380.13,240.88 L381.67,239.39 L383.20,237.84 L384.74,236.23 L386.27,234.56 L387.81,232.84 L389.35,231.05 L390.88,229.22 L392.42,227.33 L393.96,225.39 L395.49,223.41 L397.03,221.38 L398.57,219.32 L400.10,217.23 L401.64,215.10 L403.18,212.96 L404.71,210.79 L406.25,208.61 L407.79,206.43 L409.32,204.24 L410.86,202.07 L412.39,199.90 L413.93,197.76 L415.47,195.64 L417.00,193.56 L418.54,191.52 L420.08,189.53 L421.61,187.59 L423.15,185.72 L424.69,183.92 L426.22,182.20 L427.76,180.56 L429.30,179.02 L430.83,177.57 L432.37,176.23 L433.91,174.99 L435.44,173.87 L436.98,172.87 L438.52,171.99 L440.05,171.24 L441.59,170.62 L443.12,170.14 L444.66,169.79 L446.20,169.58 L447.73,169.50 L449.27,169.56 L450.81,169.75 L452.34,170.07 L453.88,170.52 L455.42,171.09 L456.95,171.79 L458.49,172.60 L460.03,173.54 L461.56,174.59 L463.10,175.75 L464.64,177.01 L466.17,178.38 L467.71,179.84 L469.25,181.38 L470.78,183.01 L472.32,184.72 L473.86,186.50 L475.39,188.34 L476.93,190.24 L478.46,192.19 L480.00,194.19 L481.54,196.22 L483.07,198.28 L484.61,200.37 L486.15,202.47 L487.68,204.59 L489.22,206.71 L490.76,208.83 L492.29,210.95 L493.83,213.05 L495.37,215.13 L496.90,217.19 L498.44,219.23 L499.98,221.23 L501.51,223.20 L503.05,225.13 L504.59,227.02 L506.12,228.86 L507.66,230.65 L509.19,232.40 L510.73,234.09 L512.27,235.72 L513.80,237.31 L515.34,238.83 L516.88,240.30 L518.41,241.71 L519.95,243.06 L521.49,244.35 L523.02,245.59 L524.56,246.76 L526.10,247.88 L527.63,248.95 L529.17,249.96 L530.71,250.91 L532.24,251.82 L533.78,252.67 L535.32,253.47 L536.85,254.23 L538.39,254.94 L539.92,255.60 L541.46,256.22 L543.00,256.80 L544.53,257.34 L546.07,257.84 L547.61,258.31 L549.14,258.75 L550.68,259.15 L552.22,259.52 L553.75,259.86 L555.29,260.18 L556.83,260.47 L558.36,260.74 L559.90,260.98 L561.44,261.21 L562.97,261.41 L564.51,261.60 L566.05,261.77 L567.58,261.93 L569.12,262.07 L570.65,262.20 L572.19,262.32 L573.73,262.42 L575.26,262.52 L576.80,262.60 L578.34,262.68 L579.87,262.75 L581.41,262.81 L582.95,262.87 L584.48,262.92 L586.02,262.96 L587.56,263.00 L589.09,263.04 L590.63,263.07 L592.17,263.10 L593.70,263.12 L595.24,263.14 L596.77,263.16 L598.31,263.18 L599.85,263.20 L601.38,263.21 L602.92,263.22 L604.46,263.23 L605.99,263.24 L607.53,263.25 L609.07,263.26 L610.60,263.26 L612.14,263.27 L613.68,263.27 L615.21,263.28 L616.75,263.28 L618.29,263.28 L619.82,263.28 L621.36,263.29 L622.90,263.29 L624.43,263.29 L625.97,263.29 L627.50,263.29 L629.04,263.29 L630.58,263.30 L632.11,263.30 L633.65,263.30 L635.19,263.30 L636.72,263.30 L638.26,263.30 L639.80,263.30 L641.33,263.30 L642.87,263.30 L644.41,263.30 L645.94,263.30 L647.48,263.30 L649.02,263.30 L650.55,263.30 L652.09,263.30 L653.63,263.30 L655.16,263.30 L656.70,263.30 L658.24,263.30 L659.77,263.30 L661.31,263.30 L662.84,263.30 L664.38,263.30 L665.92,263.30 L667.45,263.30 L668.99,263.30 L670.53,263.30 L672.06,263.30 L673.60,263.30" stroke="#0000ff" stroke-width="2.8"/>
<path d="M366.30,263.30 L367.84,263.30 L369.37,263.30 L370.91,263.30 L372.45,263.30 L373.98,263.30 L375.52,263.30 L377.06,263.30 L378.59,263.30 L380.13,263.30 L381.67,263.30 L383.20,263.30 L384.74,263.30 L386.27,263.30 L387.81,263.30 L389.35,263.30 L390.88,263.30 L392.42,263.30 L393.96,263.30 L395.49,263.30 L397.03,263.30 L398.57,263.30 L400.10,263.30 L401.64,263.30 L403.18,263.30 L404.71,263.30 L406.25,263.30 L407.79,263.30 L409.32,263.30 L410.86,263.30 L412.39,263.30 L413.93,263.30 L415.47,263.30 L417.00,263.30 L418.54,263.30 L420.08,263.30 L421.61,263.30 L423.15,263.30 L424.69,263.30 L426.22,263.30 L427.76,263.30 L429.30,263.30 L430.83,263.30 L432.37,263.30 L433.91,263.30 L435.44,263.30 L436.98,263.30 L438.52,263.30 L440.05,263.30 L441.59,263.30 L443.12,263.30 L444.66,263.30 L446.20,263.30 L447.73,263.30 L449.27,263.30 L450.81,263.30 L452.34,263.30 L453.88,263.30 L455.42,263.30 L456.95,263.30 L458.49,263.30 L460.03,263.30 L461.56,263.30 L463.10,263.30 L464.64,263.30 L466.17,263.30 L467.71,263.30 L469.25,263.29 L470.78,263.29 L472.32,263.29 L473.86,263.29 L475.39,263.29 L476.93,263.29 L478.46,263.28 L480.00,263.28 L481.54,263.28 L483.07,263.27 L484.61,263.27 L486.15,263.26 L487.68,263.25 L489.22,263.24 L490.76,263.23 L492.29,263.22 L493.83,263.20 L495.37,263.19 L496.90,263.17 L498.44,263.14 L499.98,263.12 L501.51,263.08 L503.05,263.05 L504.59,263.01 L506.12,262.96 L507.66,262.91 L509.19,262.84 L510.73,262.77 L512.27,262.69 L513.80,262.60 L515.34,262.50 L516.88,262.38 L518.41,262.25 L519.95,262.11 L521.49,261.94 L523.02,261.76 L524.56,261.55 L526.10,261.33 L527.63,261.07 L529.17,260.80 L530.71,260.49 L532.24,260.15 L533.78,259.77 L535.32,259.36 L536.85,258.92 L538.39,258.43 L539.92,257.90 L541.46,257.32 L543.00,256.69 L544.53,256.02 L546.07,255.29 L547.61,254.51 L549.14,253.67 L550.68,252.78 L552.22,251.83 L553.75,250.81 L555.29,249.74 L556.83,248.60 L558.36,247.41 L559.90,246.15 L561.44,244.83 L562.97,243.45 L564.51,242.01 L566.05,240.52 L567.58,238.97 L569.12,237.37 L570.65,235.73 L572.19,234.04 L573.73,232.31 L575.26,230.56 L576.80,228.77 L578.34,226.97 L579.87,225.15 L581.41,223.32 L582.95,221.49 L584.48,219.68 L586.02,217.88 L587.56,216.10 L589.09,214.36 L590.63,212.66 L592.17,211.01 L593.70,209.42 L595.24,207.90 L596.77,206.45 L598.31,205.09 L599.85,203.83 L601.38,202.66 L602.92,201.60 L604.46,200.66 L605.99,199.83 L607.53,199.13 L609.07,198.56 L610.60,198.11 L612.14,197.81 L613.68,197.64 L615.21,197.61 L616.75,197.72 L618.29,197.97 L619.82,198.38 L621.36,198.92 L622.90,199.59 L624.43,200.41 L625.97,201.34 L627.50,202.40 L629.04,203.58 L630.58,204.86 L632.11,206.24 L633.65,207.72 L635.19,209.27 L636.72,210.90 L638.26,212.59 L639.80,214.33 L641.33,216.12 L642.87,217.95 L644.41,219.80 L645.94,221.67 L647.48,223.55 L649.02,225.42 L650.55,227.29 L652.09,229.14 L653.63,230.97 L655.16,232.77 L656.70,234.53 L658.24,236.25 L659.77,237.93 L661.31,239.55 L662.84,241.12 L664.38,242.63 L665.92,244.08 L667.45,245.47 L668.99,246.80 L670.53,248.06 L672.06,249.25 L673.60,250.38" stroke="#00ff00" stroke-width="2.8"/>
<path d="M366.30,249.40 L367.84,248.90 L369.37,248.09 L370.91,247.01 L372.45,245.72 L373.98,244.24 L375.52,242.61 L377.06,240.84 L378.59,238.96 L380.13,236.99 L381.67,234.92 L383.20,232.78 L384.74,230.57 L386.27,228.30 L387.81,225.97 L389.35,223.59 L390.88,221.17 L392.42,218.69 L393.96,216.17 L395.49,213.62 L397.03,211.02 L398.57,208.38 L400.10,205.71 L401.64,203.01 L403.18,200.29 L404.71,197.57 L406.25,194.86 L407.79,192.17 L409.32,189.53 L410.86,186.93 L412.39,184.37 L413.93,181.84 L415.47,179.32 L417.00,176.81 L418.54,174.30 L420.08,171.79 L421.61,169.27 L423.15,166.74 L424.69,164.20 L426.22,161.63 L427.76,159.05 L429.30,156.44 L430.83,153.80 L432.37,151.13 L433.91,148.43 L435.44,145.68 L436.98,142.90 L438.52,140.07 L440.05,137.20 L441.59,134.32 L443.12,131.43 L444.66,128.57 L446.20,125.76 L447.73,123.01 L449.27,120.34 L450.81,117.76 L452.34,115.28 L453.88,112.87 L455.42,110.54 L456.95,108.28 L458.49,106.08 L460.03,103.93 L461.56,101.84 L463.10,99.81 L464.64,97.82 L466.17,95.88 L467.71,93.99 L469.25,92.14 L470.78,90.33 L472.32,88.57 L473.86,86.84 L475.39,85.14 L476.93,83.48 L478.46,81.85 L480.00,80.25 L481.54,78.68 L483.07,77.13 L484.61,75.60 L486.15,74.10 L487.68,72.62 L489.22,71.17 L490.76,69.75 L492.29,68.35 L493.83,66.99 L495.37,65.67 L496.90,64.39 L498.44,63.14 L499.98,61.94 L501.51,60.78 L503.05,59.66 L504.59,58.59 L506.12,57.58 L507.66,56.61 L509.19,55.71 L510.73,54.85 L512.27,54.06 L513.80,53.32 L515.34,52.65 L516.88,52.05 L518.41,51.51 L519.95,51.04 L521.49,50.64 L523.02,50.32 L524.56,50.07 L526.10,49.89 L527.63,49.78 L529.17,49.74 L530.71,49.78 L532.24,49.88 L533.78,50.05 L535.32,50.29 L536.85,50.59 L538.39,50.96 L539.92,51.40 L541.46,51.90 L543.00,52.47 L544.53,53.10 L546.07,53.79 L547.61,54.55 L549.14,55.36 L550.68,56.24 L552.22,57.18 L553.75,58.17 L555.29,59.23 L556.83,60.34 L558.36,61.50 L559.90,62.73 L561.44,64.01 L562.97,65.34 L564.51,66.73 L566.05,68.17 L567.58,69.66 L569.12,71.21 L570.65,72.80 L572.19,74.45 L573.73,76.15 L575.26,77.89 L576.80,79.68 L578.34,81.52 L579.87,83.41 L581.41,85.34 L582.95,87.32 L584.48,89.34 L586.02,91.40 L587.56,93.51 L589.09,95.66 L590.63,97.85 L592.17,100.08 L593.70,102.35 L595.24,104.66 L596.77,107.01 L598.31,109.40 L599.85,111.82 L601.38,114.28 L602.92,116.78 L604.46,119.31 L605.99,121.87 L607.53,124.47 L609.07,127.10 L610.60,129.76 L612.14,132.46 L613.68,135.18 L615.21,137.93 L616.75,140.71 L618.29,143.52 L619.82,146.36 L621.36,149.22 L622.90,152.10 L624.43,155.01 L625.97,157.93 L627.50,160.88 L629.04,163.84 L630.58,166.82 L632.11,169.82 L633.65,172.84 L635.19,175.86 L636.72,178.90 L638.26,181.95 L639.80,185.01 L641.33,188.07 L642.87,191.14 L644.41,194.22 L645.94,197.29 L647.48,200.37 L649.02,203.44 L650.55,206.51 L652.09,209.57 L653.63,212.61 L655.16,215.64 L656.70,218.65 L658.24,221.64 L659.77,224.58 L661.31,227.49 L662.84,230.35 L664.38,233.14 L665.92,235.85 L667.45,238.46 L668.99,240.95 L670.53,243.30 L672.06,245.46 L673.60,247.40" stroke="#00ffff" stroke-width="2.8" stroke-dasharray="13.00 18.25" stroke-dashoffset="-29.40" stroke-linecap="round"/>
</g>
<text transform="translate(505.65,17.50) scale(1.0025,1)" font-size="12.424" font-weight="normal" fill="#000"  stroke="#000" stroke-width="0.1">STC2</text>
<text transform="translate(539.71,34.80) scale(0.9791,1)" font-size="12.424" font-weight="normal" fill="#000"  stroke="#000" stroke-width="0.1">2057</text>
<line x1="543.90" y1="39.90" x2="538.67" y2="55.18" stroke="#000" stroke-width="1.15"/><polygon points="536.40,61.80 536.79,52.95 541.52,54.57" fill="#000"/>
<text transform="translate(407.42,132.10) scale(0.9940,1)" font-size="11.970" font-weight="normal" fill="#000"  stroke="#000" stroke-width="0.1">2074</text>
<line x1="428.50" y1="136.00" x2="440.71" y2="160.82" stroke="#000" stroke-width="1.15"/><polygon points="443.80,167.10 437.80,160.58 442.29,158.37" fill="#000"/>
<text transform="translate(631.01,153.80) scale(1.0068,1)" font-size="12.273" font-weight="normal" fill="#000"  stroke="#000" stroke-width="0.1">2042</text>
<line x1="633.60" y1="157.10" x2="619.88" y2="187.52" stroke="#000" stroke-width="1.15"/><polygon points="617.00,193.90 618.22,185.12 622.77,187.18" fill="#000"/>
<text transform="translate(355.10,280.90) scale(0.9077,1)" font-size="12.273" font-weight="normal" fill="#000"  stroke="#000" stroke-width="0.16">2090</text>
<text transform="translate(406.32,280.90) scale(0.9077,1)" font-size="12.273" font-weight="normal" fill="#000"  stroke="#000" stroke-width="0.16">2080</text>
<text transform="translate(457.54,280.90) scale(0.9077,1)" font-size="12.273" font-weight="normal" fill="#000"  stroke="#000" stroke-width="0.16">2070</text>
<text transform="translate(508.75,280.90) scale(0.9077,1)" font-size="12.273" font-weight="normal" fill="#000"  stroke="#000" stroke-width="0.16">2060</text>
<text transform="translate(559.97,280.90) scale(0.9077,1)" font-size="12.273" font-weight="normal" fill="#000"  stroke="#000" stroke-width="0.16">2050</text>
<text transform="translate(611.19,280.90) scale(0.9077,1)" font-size="12.273" font-weight="normal" fill="#000"  stroke="#000" stroke-width="0.16">2040</text>
<text transform="translate(662.40,280.90) scale(0.9077,1)" font-size="12.273" font-weight="normal" fill="#000"  stroke="#000" stroke-width="0.16">2030</text>
<text transform="translate(466.88,301.40) scale(1.0210,1)" font-size="11.846" font-weight="bold">Wavenumber (Cm<tspan font-size="7.34" dy="-4.26">-1</tspan><tspan dy="4.26">)</tspan></text>
<text transform="translate(352.20,170.06) rotate(-90) scale(1.0765,1)" font-size="11.143" font-weight="bold">Intensity (a.u.)</text>
<rect x="24.30" y="312.60" width="305.90" height="262.90" fill="none" stroke="#4a4a4a" stroke-width="1.1" stroke-linejoin="round"/>
<line x1="24.30" y1="575.50" x2="24.30" y2="580.10" stroke="#4a4a4a" stroke-width="1.1"/>
<line x1="49.79" y1="575.50" x2="49.79" y2="578.30" stroke="#4a4a4a" stroke-width="1.1"/>
<line x1="75.28" y1="575.50" x2="75.28" y2="580.10" stroke="#4a4a4a" stroke-width="1.1"/>
<line x1="100.77" y1="575.50" x2="100.77" y2="578.30" stroke="#4a4a4a" stroke-width="1.1"/>
<line x1="126.27" y1="575.50" x2="126.27" y2="580.10" stroke="#4a4a4a" stroke-width="1.1"/>
<line x1="151.76" y1="575.50" x2="151.76" y2="578.30" stroke="#4a4a4a" stroke-width="1.1"/>
<line x1="177.25" y1="575.50" x2="177.25" y2="580.10" stroke="#4a4a4a" stroke-width="1.1"/>
<line x1="202.74" y1="575.50" x2="202.74" y2="578.30" stroke="#4a4a4a" stroke-width="1.1"/>
<line x1="228.23" y1="575.50" x2="228.23" y2="580.10" stroke="#4a4a4a" stroke-width="1.1"/>
<line x1="253.72" y1="575.50" x2="253.72" y2="578.30" stroke="#4a4a4a" stroke-width="1.1"/>
<line x1="279.22" y1="575.50" x2="279.22" y2="580.10" stroke="#4a4a4a" stroke-width="1.1"/>
<line x1="304.71" y1="575.50" x2="304.71" y2="578.30" stroke="#4a4a4a" stroke-width="1.1"/>
<line x1="330.20" y1="575.50" x2="330.20" y2="580.10" stroke="#4a4a4a" stroke-width="1.1"/>
<g clip-path="url(#clipSTC3)" fill="none" stroke-linejoin="round">
<path d="M24.30,569.87 L25.83,567.21 L27.36,564.54 L28.89,561.84 L30.42,559.12 L31.95,556.39 L33.48,553.64 L35.01,550.87 L36.54,548.09 L38.07,545.30 L39.59,542.49 L41.12,539.67 L42.65,536.84 L44.18,534.01 L45.71,531.16 L47.24,528.31 L48.77,525.44 L50.30,522.58 L51.83,519.71 L53.36,516.83 L54.89,513.96 L56.42,511.08 L57.95,508.20 L59.48,505.32 L61.01,502.45 L62.54,499.57 L64.07,496.70 L65.60,493.83 L67.13,490.97 L68.66,488.11 L70.19,485.27 L71.71,482.43 L73.24,479.60 L74.77,476.78 L76.30,473.97 L77.83,471.17 L79.36,468.39 L80.89,465.62 L82.42,462.86 L83.95,460.13 L85.48,457.40 L87.01,454.70 L88.54,452.02 L90.07,449.36 L91.60,446.71 L93.13,444.09 L94.66,441.50 L96.19,438.93 L97.72,436.38 L99.25,433.87 L100.77,431.39 L102.30,428.94 L103.83,426.53 L105.36,424.16 L106.89,421.83 L108.42,419.55 L109.95,417.32 L111.48,415.13 L113.01,412.99 L114.54,410.90 L116.07,408.86 L117.60,406.86 L119.13,404.92 L120.66,403.01 L122.19,401.16 L123.72,399.34 L125.25,397.57 L126.78,395.85 L128.31,394.17 L129.84,392.52 L131.37,390.92 L132.89,389.36 L134.42,387.84 L135.95,386.36 L137.48,384.92 L139.01,383.52 L140.54,382.15 L142.07,380.82 L143.60,379.53 L145.13,378.28 L146.66,377.06 L148.19,375.89 L149.72,374.75 L151.25,373.66 L152.78,372.62 L154.31,371.61 L155.84,370.66 L157.37,369.75 L158.90,368.88 L160.43,368.07 L161.95,367.31 L163.48,366.59 L165.01,365.93 L166.54,365.32 L168.07,364.77 L169.60,364.27 L171.13,363.82 L172.66,363.43 L174.19,363.10 L175.72,362.83 L177.25,362.62 L178.78,362.47 L180.31,362.39 L181.84,362.36 L183.37,362.40 L184.90,362.51 L186.43,362.68 L187.96,362.92 L189.49,363.22 L191.02,363.59 L192.55,364.02 L194.07,364.51 L195.60,365.07 L197.13,365.69 L198.66,366.37 L200.19,367.11 L201.72,367.91 L203.25,368.77 L204.78,369.68 L206.31,370.66 L207.84,371.68 L209.37,372.77 L210.90,373.91 L212.43,375.10 L213.96,376.35 L215.49,377.65 L217.02,379.01 L218.55,380.41 L220.08,381.86 L221.61,383.37 L223.14,384.92 L224.66,386.52 L226.19,388.17 L227.72,389.87 L229.25,391.61 L230.78,393.39 L232.31,395.23 L233.84,397.10 L235.37,399.03 L236.90,400.99 L238.43,403.00 L239.96,405.05 L241.49,407.15 L243.02,409.29 L244.55,411.47 L246.08,413.69 L247.61,415.95 L249.14,418.25 L250.67,420.59 L252.20,422.98 L253.73,425.40 L255.25,427.86 L256.78,430.36 L258.31,432.89 L259.84,435.47 L261.37,438.08 L262.90,440.73 L264.43,443.41 L265.96,446.13 L267.49,448.89 L269.02,451.68 L270.55,454.50 L272.08,457.35 L273.61,460.23 L275.14,463.13 L276.67,466.06 L278.20,469.00 L279.73,471.96 L281.26,474.93 L282.79,477.92 L284.31,480.91 L285.84,483.91 L287.37,486.92 L288.90,489.92 L290.43,492.93 L291.96,495.93 L293.49,498.92 L295.02,501.91 L296.55,504.88 L298.08,507.84 L299.61,510.79 L301.14,513.71 L302.67,516.62 L304.20,519.50 L305.73,522.35 L307.26,525.19 L308.79,528.00 L310.32,530.81 L311.85,533.60 L313.38,536.39 L314.90,539.18 L316.43,541.97 L317.96,544.77 L319.49,547.58 L321.02,550.40 L322.55,553.24 L324.08,556.10 L325.61,558.98 L327.14,561.90 L328.67,564.85 L330.20,567.83" stroke="#000" stroke-width="3.0"/>
<path d="M24.30,572.44 L25.83,572.17 L27.36,571.89 L28.89,571.59 L30.42,571.26 L31.95,570.91 L33.48,570.54 L35.01,570.14 L36.54,569.71 L38.07,569.25 L39.59,568.77 L41.12,568.25 L42.65,567.69 L44.18,567.11 L45.71,566.48 L47.24,565.82 L48.77,565.11 L50.30,564.36 L51.83,563.57 L53.36,562.74 L54.89,561.85 L56.42,560.92 L57.95,559.94 L59.48,558.90 L61.01,557.81 L62.54,556.66 L64.07,555.45 L65.60,554.19 L67.13,552.86 L68.66,551.47 L70.19,550.01 L71.71,548.49 L73.24,546.90 L74.77,545.24 L76.30,543.51 L77.83,541.71 L79.36,539.84 L80.89,537.89 L82.42,535.87 L83.95,533.78 L85.48,531.61 L87.01,529.37 L88.54,527.05 L90.07,524.66 L91.60,522.19 L93.13,519.64 L94.66,517.03 L96.19,514.34 L97.72,511.57 L99.25,508.74 L100.77,505.84 L102.30,502.87 L103.83,499.84 L105.36,496.75 L106.89,493.59 L108.42,490.38 L109.95,487.12 L111.48,483.80 L113.01,480.44 L114.54,477.03 L116.07,473.59 L117.60,470.11 L119.13,466.60 L120.66,463.06 L122.19,459.51 L123.72,455.94 L125.25,452.35 L126.78,448.77 L128.31,445.19 L129.84,441.61 L131.37,438.05 L132.89,434.51 L134.42,431.00 L135.95,427.52 L137.48,424.08 L139.01,420.68 L140.54,417.34 L142.07,414.06 L143.60,410.84 L145.13,407.69 L146.66,404.63 L148.19,401.65 L149.72,398.76 L151.25,395.97 L152.78,393.29 L154.31,390.71 L155.84,388.25 L157.37,385.92 L158.90,383.71 L160.43,381.63 L161.95,379.69 L163.48,377.89 L165.01,376.23 L166.54,374.73 L168.07,373.38 L169.60,372.19 L171.13,371.15 L172.66,370.28 L174.19,369.57 L175.72,369.03 L177.25,368.65 L178.78,368.45 L180.31,368.41 L181.84,368.54 L183.37,368.83 L184.90,369.30 L186.43,369.93 L187.96,370.73 L189.49,371.69 L191.02,372.81 L192.55,374.08 L194.07,375.52 L195.60,377.10 L197.13,378.83 L198.66,380.71 L200.19,382.72 L201.72,384.87 L203.25,387.15 L204.78,389.55 L206.31,392.07 L207.84,394.71 L209.37,397.45 L210.90,400.29 L212.43,403.23 L213.96,406.26 L215.49,409.37 L217.02,412.55 L218.55,415.80 L220.08,419.12 L221.61,422.49 L223.14,425.91 L224.66,429.38 L226.19,432.88 L227.72,436.40 L229.25,439.96 L230.78,443.52 L232.31,447.10 L233.84,450.69 L235.37,454.27 L236.90,457.85 L238.43,461.41 L239.96,464.95 L241.49,468.48 L243.02,471.97 L244.55,475.43 L246.08,478.86 L247.61,482.24 L249.14,485.58 L250.67,488.87 L252.20,492.11 L253.73,495.29 L255.25,498.41 L256.78,501.47 L258.31,504.47 L259.84,507.40 L261.37,510.27 L262.90,513.06 L264.43,515.78 L265.96,518.43 L267.49,521.01 L269.02,523.52 L270.55,525.94 L272.08,528.30 L273.61,530.58 L275.14,532.78 L276.67,534.91 L278.20,536.96 L279.73,538.94 L281.26,540.85 L282.79,542.68 L284.31,544.44 L285.84,546.14 L287.37,547.76 L288.90,549.31 L290.43,550.80 L291.96,552.22 L293.49,553.58 L295.02,554.87 L296.55,556.11 L298.08,557.28 L299.61,558.40 L301.14,559.46 L302.67,560.47 L304.20,561.43 L305.73,562.33 L307.26,563.19 L308.79,564.00 L310.32,564.77 L311.85,565.49 L313.38,566.18 L314.90,566.82 L316.43,567.42 L317.96,567.99 L319.49,568.53 L321.02,569.03 L322.55,569.50 L324.08,569.94 L325.61,570.35 L327.14,570.74 L328.67,571.10 L330.20,571.44" stroke="#ff0000" stroke-width="2.8"/>
<path d="M24.30,562.04 L25.83,560.97 L27.36,559.84 L28.89,558.65 L30.42,557.41 L31.95,556.10 L33.48,554.74 L35.01,553.32 L36.54,551.84 L38.07,550.31 L39.59,548.72 L41.12,547.08 L42.65,545.39 L44.18,543.66 L45.71,541.89 L47.24,540.07 L48.77,538.23 L50.30,536.35 L51.83,534.45 L53.36,532.53 L54.89,530.60 L56.42,528.66 L57.95,526.72 L59.48,524.78 L61.01,522.86 L62.54,520.96 L64.07,519.09 L65.60,517.26 L67.13,515.46 L68.66,513.72 L70.19,512.04 L71.71,510.42 L73.24,508.87 L74.77,507.40 L76.30,506.02 L77.83,504.74 L79.36,503.55 L80.89,502.47 L82.42,501.49 L83.95,500.64 L85.48,499.90 L87.01,499.28 L88.54,498.79 L90.07,498.43 L91.60,498.20 L93.13,498.10 L94.66,498.14 L96.19,498.31 L97.72,498.62 L99.25,499.07 L100.77,499.65 L102.30,500.36 L103.83,501.19 L105.36,502.15 L106.89,503.22 L108.42,504.40 L109.95,505.69 L111.48,507.08 L113.01,508.56 L114.54,510.13 L116.07,511.77 L117.60,513.48 L119.13,515.26 L120.66,517.09 L122.19,518.96 L123.72,520.87 L125.25,522.81 L126.78,524.77 L128.31,526.75 L129.84,528.73 L131.37,530.71 L132.89,532.69 L134.42,534.65 L135.95,536.59 L137.48,538.50 L139.01,540.38 L140.54,542.23 L142.07,544.04 L143.60,545.80 L145.13,547.51 L146.66,549.17 L148.19,550.78 L149.72,552.33 L151.25,553.82 L152.78,555.25 L154.31,556.62 L155.84,557.93 L157.37,559.18 L158.90,560.36 L160.43,561.49 L161.95,562.55 L163.48,563.56 L165.01,564.50 L166.54,565.39 L168.07,566.23 L169.60,567.01 L171.13,567.74 L172.66,568.42 L174.19,569.05 L175.72,569.63 L177.25,570.17 L178.78,570.67 L180.31,571.13 L181.84,571.56 L183.37,571.95 L184.90,572.30 L186.43,572.63 L187.96,572.93 L189.49,573.20 L191.02,573.44 L192.55,573.67 L194.07,573.87 L195.60,574.05 L197.13,574.21 L198.66,574.36 L200.19,574.49 L201.72,574.61 L203.25,574.72 L204.78,574.81 L206.31,574.90 L207.84,574.97 L209.37,575.04 L210.90,575.10 L212.43,575.15 L213.96,575.19 L215.49,575.24 L217.02,575.27 L218.55,575.30 L220.08,575.33 L221.61,575.35 L223.14,575.37 L224.66,575.39 L226.19,575.41 L227.72,575.42 L229.25,575.43 L230.78,575.44 L232.31,575.45 L233.84,575.46 L235.37,575.46 L236.90,575.47 L238.43,575.47 L239.96,575.48 L241.49,575.48 L243.02,575.48 L244.55,575.49 L246.08,575.49 L247.61,575.49 L249.14,575.49 L250.67,575.49 L252.20,575.49 L253.73,575.50 L255.25,575.50 L256.78,575.50 L258.31,575.50 L259.84,575.50 L261.37,575.50 L262.90,575.50 L264.43,575.50 L265.96,575.50 L267.49,575.50 L269.02,575.50 L270.55,575.50 L272.08,575.50 L273.61,575.50 L275.14,575.50 L276.67,575.50 L278.20,575.50 L279.73,575.50 L281.26,575.50 L282.79,575.50 L284.31,575.50 L285.84,575.50 L287.37,575.50 L288.90,575.50 L290.43,575.50 L291.96,575.50 L293.49,575.50 L295.02,575.50 L296.55,575.50 L298.08,575.50 L299.61,575.50 L301.14,575.50 L302.67,575.50 L304.20,575.50 L305.73,575.50 L307.26,575.50 L308.79,575.50 L310.32,575.50 L311.85,575.50 L313.38,575.50 L314.90,575.50 L316.43,575.50 L317.96,575.50 L319.49,575.50 L321.02,575.50 L322.55,575.50 L324.08,575.50 L325.61,575.50 L327.14,575.50 L328.67,575.50 L330.20,575.50" stroke="#0000ff" stroke-width="2.8"/>
<path d="M24.30,575.50 L25.83,575.50 L27.36,575.50 L28.89,575.50 L30.42,575.50 L31.95,575.50 L33.48,575.50 L35.01,575.50 L36.54,575.50 L38.07,575.50 L39.59,575.50 L41.12,575.50 L42.65,575.50 L44.18,575.50 L45.71,575.50 L47.24,575.50 L48.77,575.50 L50.30,575.50 L51.83,575.50 L53.36,575.50 L54.89,575.50 L56.42,575.50 L57.95,575.50 L59.48,575.50 L61.01,575.50 L62.54,575.50 L64.07,575.50 L65.60,575.50 L67.13,575.50 L68.66,575.50 L70.19,575.50 L71.71,575.50 L73.24,575.50 L74.77,575.50 L76.30,575.50 L77.83,575.50 L79.36,575.50 L80.89,575.50 L82.42,575.50 L83.95,575.50 L85.48,575.50 L87.01,575.50 L88.54,575.50 L90.07,575.50 L91.60,575.50 L93.13,575.50 L94.66,575.50 L96.19,575.50 L97.72,575.50 L99.25,575.50 L100.77,575.50 L102.30,575.50 L103.83,575.50 L105.36,575.50 L106.89,575.50 L108.42,575.50 L109.95,575.49 L111.48,575.49 L113.01,575.49 L114.54,575.49 L116.07,575.49 L117.60,575.49 L119.13,575.48 L120.66,575.48 L122.19,575.48 L123.72,575.47 L125.25,575.47 L126.78,575.46 L128.31,575.45 L129.84,575.44 L131.37,575.43 L132.89,575.42 L134.42,575.41 L135.95,575.39 L137.48,575.37 L139.01,575.35 L140.54,575.33 L142.07,575.30 L143.60,575.27 L145.13,575.23 L146.66,575.19 L148.19,575.14 L149.72,575.09 L151.25,575.02 L152.78,574.95 L154.31,574.87 L155.84,574.78 L157.37,574.68 L158.90,574.57 L160.43,574.44 L161.95,574.30 L163.48,574.14 L165.01,573.96 L166.54,573.76 L168.07,573.54 L169.60,573.30 L171.13,573.03 L172.66,572.74 L174.19,572.41 L175.72,572.05 L177.25,571.66 L178.78,571.24 L180.31,570.77 L181.84,570.27 L183.37,569.72 L184.90,569.12 L186.43,568.48 L187.96,567.79 L189.49,567.04 L191.02,566.25 L192.55,565.39 L194.07,564.48 L195.60,563.51 L197.13,562.48 L198.66,561.38 L200.19,560.22 L201.72,559.00 L203.25,557.72 L204.78,556.37 L206.31,554.97 L207.84,553.49 L209.37,551.96 L210.90,550.37 L212.43,548.72 L213.96,547.02 L215.49,545.27 L217.02,543.48 L218.55,541.64 L220.08,539.76 L221.61,537.85 L223.14,535.92 L224.66,533.97 L226.19,532.00 L227.72,530.02 L229.25,528.05 L230.78,526.09 L232.31,524.14 L233.84,522.22 L235.37,520.33 L236.90,518.48 L238.43,516.69 L239.96,514.95 L241.49,513.28 L243.02,511.69 L244.55,510.18 L246.08,508.77 L247.61,507.45 L249.14,506.24 L250.67,505.14 L252.20,504.16 L253.73,503.31 L255.25,502.58 L256.78,501.99 L258.31,501.53 L259.84,501.21 L261.37,501.04 L262.90,501.01 L264.43,501.12 L265.96,501.40 L267.49,501.82 L269.02,502.40 L270.55,503.12 L272.08,503.98 L273.61,504.99 L275.14,506.12 L276.67,507.37 L278.20,508.75 L279.73,510.23 L281.26,511.81 L282.79,513.48 L284.31,515.23 L285.84,517.06 L287.37,518.95 L288.90,520.89 L290.43,522.88 L291.96,524.89 L293.49,526.94 L295.02,528.99 L296.55,531.06 L298.08,533.12 L299.61,535.16 L301.14,537.19 L302.67,539.20 L304.20,541.17 L305.73,543.10 L307.26,544.98 L308.79,546.82 L310.32,548.60 L311.85,550.32 L313.38,551.99 L314.90,553.58 L316.43,555.12 L317.96,556.58 L319.49,557.98 L321.02,559.30 L322.55,560.56 L324.08,561.75 L325.61,562.87 L327.14,563.92 L328.67,564.91 L330.20,565.83" stroke="#00ff00" stroke-width="2.8"/>
<path d="M24.30,560.30 L25.83,559.09 L27.36,557.57 L28.89,555.81 L30.42,553.84 L31.95,551.71 L33.48,549.45 L35.01,547.07 L36.54,544.61 L38.07,542.06 L39.59,539.46 L41.12,536.81 L42.65,534.11 L44.18,531.37 L45.71,528.61 L47.24,525.83 L48.77,523.02 L50.30,520.20 L51.83,517.36 L53.36,514.52 L54.89,511.66 L56.42,508.80 L57.95,505.94 L59.48,503.07 L61.01,500.21 L62.54,497.34 L64.07,494.47 L65.60,491.61 L67.13,488.75 L68.66,485.90 L70.19,483.06 L71.71,480.22 L73.24,477.39 L74.77,474.57 L76.30,471.76 L77.83,468.97 L79.36,466.18 L80.89,463.42 L82.42,460.66 L83.95,457.92 L85.48,455.20 L87.01,452.50 L88.54,449.82 L90.07,447.16 L91.60,444.51 L93.13,441.89 L94.66,439.30 L96.19,436.73 L97.72,434.18 L99.25,431.67 L100.77,429.19 L102.30,426.74 L103.83,424.33 L105.36,421.96 L106.89,419.63 L108.42,417.35 L109.95,415.12 L111.48,412.93 L113.01,410.79 L114.54,408.70 L116.07,406.66 L117.60,404.66 L119.13,402.72 L120.66,400.81 L122.19,398.96 L123.72,397.14 L125.25,395.37 L126.78,393.65 L128.31,391.97 L129.84,390.32 L131.37,388.72 L132.89,387.16 L134.42,385.64 L135.95,384.16 L137.48,382.72 L139.01,381.32 L140.54,379.95 L142.07,378.62 L143.60,377.33 L145.13,376.08 L146.66,374.86 L148.19,373.69 L149.72,372.55 L151.25,371.46 L152.78,370.42 L154.31,369.41 L155.84,368.46 L157.37,367.55 L158.90,366.68 L160.43,365.87 L161.95,365.11 L163.48,364.39 L165.01,363.73 L166.54,363.12 L168.07,362.57 L169.60,362.07 L171.13,361.62 L172.66,361.23 L174.19,360.90 L175.72,360.63 L177.25,360.42 L178.78,360.27 L180.31,360.19 L181.84,360.16 L183.37,360.20 L184.90,360.31 L186.43,360.48 L187.96,360.72 L189.49,361.02 L191.02,361.39 L192.55,361.82 L194.07,362.31 L195.60,362.87 L197.13,363.49 L198.66,364.17 L200.19,364.91 L201.72,365.71 L203.25,366.57 L204.78,367.48 L206.31,368.46 L207.84,369.48 L209.37,370.57 L210.90,371.71 L212.43,372.90 L213.96,374.15 L215.49,375.45 L217.02,376.81 L218.55,378.21 L220.08,379.66 L221.61,381.17 L223.14,382.72 L224.66,384.32 L226.19,385.97 L227.72,387.67 L229.25,389.41 L230.78,391.19 L232.31,393.03 L233.84,394.90 L235.37,396.83 L236.90,398.79 L238.43,400.80 L239.96,402.85 L241.49,404.95 L243.02,407.09 L244.55,409.27 L246.08,411.49 L247.61,413.75 L249.14,416.05 L250.67,418.39 L252.20,420.78 L253.73,423.20 L255.25,425.66 L256.78,428.16 L258.31,430.69 L259.84,433.27 L261.37,435.88 L262.90,438.53 L264.43,441.21 L265.96,443.93 L267.49,446.69 L269.02,449.48 L270.55,452.30 L272.08,455.15 L273.61,458.03 L275.14,460.93 L276.67,463.85 L278.20,466.79 L279.73,469.75 L281.26,472.73 L282.79,475.71 L284.31,478.70 L285.84,481.70 L287.37,484.70 L288.90,487.70 L290.43,490.70 L291.96,493.70 L293.49,496.69 L295.02,499.66 L296.55,502.63 L298.08,505.58 L299.61,508.50 L301.14,511.41 L302.67,514.29 L304.20,517.14 L305.73,519.95 L307.26,522.74 L308.79,525.50 L310.32,528.23 L311.85,530.93 L313.38,533.60 L314.90,536.25 L316.43,538.86 L317.96,541.43 L319.49,543.96 L321.02,546.44 L322.55,548.84 L324.08,551.17 L325.61,553.39 L327.14,555.48 L328.67,557.40 L330.20,559.10" stroke="#00ffff" stroke-width="2.8" stroke-dasharray="13.00 18.80" stroke-dashoffset="-26.20" stroke-linecap="round"/>
</g>
<text transform="translate(159.16,327.80) scale(1.0784,1)" font-size="11.364" font-weight="normal" fill="#000"  stroke="#000" stroke-width="0.1">STC3</text>
<text transform="translate(193.60,345.90) scale(1.0400,1)" font-size="11.970" font-weight="normal" fill="#000"  stroke="#000" stroke-width="0.1">2059</text>
<line x1="197.30" y1="352.40" x2="190.98" y2="363.43" stroke="#000" stroke-width="1.15"/><polygon points="187.50,369.50 189.56,360.88 193.90,363.37" fill="#000"/>
<text transform="translate(38.51,466.30) scale(1.0206,1)" font-size="11.970" font-weight="normal" fill="#000"  stroke="#000" stroke-width="0.1">2076</text>
<line x1="65.30" y1="469.90" x2="84.58" y2="491.03" stroke="#000" stroke-width="1.15"/><polygon points="89.30,496.20 81.72,491.61 85.42,488.24" fill="#000"/>
<text transform="translate(293.22,469.60) scale(1.0578,1)" font-size="11.364" font-weight="normal" fill="#000"  stroke="#000" stroke-width="0.1">2043</text>
<line x1="294.80" y1="475.50" x2="274.48" y2="494.78" stroke="#000" stroke-width="1.15"/><polygon points="269.40,499.60 273.85,491.94 277.29,495.56" fill="#000"/>
<text transform="translate(13.05,592.90) scale(0.9849,1)" font-size="11.364" font-weight="normal" fill="#000"  stroke="#000" stroke-width="0.16">2090</text>
<text transform="translate(64.04,592.90) scale(0.9849,1)" font-size="11.364" font-weight="normal" fill="#000"  stroke="#000" stroke-width="0.16">2080</text>
<text transform="translate(115.02,592.90) scale(0.9849,1)" font-size="11.364" font-weight="normal" fill="#000"  stroke="#000" stroke-width="0.16">2070</text>
<text transform="translate(166.00,592.90) scale(0.9849,1)" font-size="11.364" font-weight="normal" fill="#000"  stroke="#000" stroke-width="0.16">2060</text>
<text transform="translate(216.99,592.90) scale(0.9849,1)" font-size="11.364" font-weight="normal" fill="#000"  stroke="#000" stroke-width="0.16">2050</text>
<text transform="translate(267.97,592.90) scale(0.9849,1)" font-size="11.364" font-weight="normal" fill="#000"  stroke="#000" stroke-width="0.16">2040</text>
<text transform="translate(318.95,592.90) scale(0.9849,1)" font-size="11.364" font-weight="normal" fill="#000"  stroke="#000" stroke-width="0.16">2030</text>
<text transform="translate(123.58,614.00) scale(0.9986,1)" font-size="12.308" font-weight="bold">Wavenumber (Cm<tspan font-size="7.63" dy="-4.43">-1</tspan><tspan dy="4.43">)</tspan></text>
<text transform="translate(10.00,484.88) rotate(-90) scale(1.1630,1)" font-size="10.857" font-weight="bold">Intensity (a.u.)</text>
<rect x="367.70" y="313.50" width="306.10" height="262.10" fill="none" stroke="#555" stroke-width="1.1" stroke-linejoin="round"/>
<line x1="367.70" y1="575.60" x2="367.70" y2="580.20" stroke="#555" stroke-width="1.1"/>
<line x1="393.21" y1="575.60" x2="393.21" y2="578.40" stroke="#555" stroke-width="1.1"/>
<line x1="418.72" y1="575.60" x2="418.72" y2="580.20" stroke="#555" stroke-width="1.1"/>
<line x1="444.22" y1="575.60" x2="444.22" y2="578.40" stroke="#555" stroke-width="1.1"/>
<line x1="469.73" y1="575.60" x2="469.73" y2="580.20" stroke="#555" stroke-width="1.1"/>
<line x1="495.24" y1="575.60" x2="495.24" y2="578.40" stroke="#555" stroke-width="1.1"/>
<line x1="520.75" y1="575.60" x2="520.75" y2="580.20" stroke="#555" stroke-width="1.1"/>
<line x1="546.26" y1="575.60" x2="546.26" y2="578.40" stroke="#555" stroke-width="1.1"/>
<line x1="571.77" y1="575.60" x2="571.77" y2="580.20" stroke="#555" stroke-width="1.1"/>
<line x1="597.27" y1="575.60" x2="597.27" y2="578.40" stroke="#555" stroke-width="1.1"/>
<line x1="622.78" y1="575.60" x2="622.78" y2="580.20" stroke="#555" stroke-width="1.1"/>
<line x1="648.29" y1="575.60" x2="648.29" y2="578.40" stroke="#555" stroke-width="1.1"/>
<line x1="673.80" y1="575.60" x2="673.80" y2="580.20" stroke="#555" stroke-width="1.1"/>
<g clip-path="url(#clipSTC4)" fill="none" stroke-linejoin="round">
<path d="M367.70,562.19 L369.23,557.39 L370.76,552.74 L372.29,548.22 L373.82,543.82 L375.35,539.52 L376.88,535.30 L378.41,531.17 L379.94,527.10 L381.47,523.07 L383.00,519.08 L384.54,515.11 L386.07,511.15 L387.60,507.18 L389.13,503.19 L390.66,499.17 L392.19,495.10 L393.72,490.97 L395.25,486.76 L396.78,482.46 L398.31,478.06 L399.84,473.57 L401.37,469.00 L402.90,464.39 L404.43,459.77 L405.96,455.15 L407.49,450.57 L409.02,446.06 L410.55,441.64 L412.08,437.33 L413.62,433.17 L415.15,429.14 L416.68,425.26 L418.21,421.50 L419.74,417.85 L421.27,414.31 L422.80,410.87 L424.33,407.51 L425.86,404.24 L427.39,401.07 L428.92,397.97 L430.45,394.97 L431.98,392.06 L433.51,389.23 L435.04,386.50 L436.57,383.85 L438.10,381.29 L439.63,378.83 L441.16,376.45 L442.69,374.17 L444.22,371.98 L445.76,369.88 L447.29,367.87 L448.82,365.96 L450.35,364.14 L451.88,362.41 L453.41,360.78 L454.94,359.24 L456.47,357.80 L458.00,356.45 L459.53,355.19 L461.06,354.03 L462.59,352.97 L464.12,352.01 L465.65,351.14 L467.18,350.37 L468.71,349.70 L470.24,349.12 L471.77,348.64 L473.30,348.26 L474.83,347.97 L476.37,347.78 L477.90,347.68 L479.43,347.67 L480.96,347.75 L482.49,347.92 L484.02,348.18 L485.55,348.52 L487.08,348.95 L488.61,349.46 L490.14,350.06 L491.67,350.74 L493.20,351.50 L494.73,352.34 L496.26,353.26 L497.79,354.26 L499.32,355.33 L500.85,356.48 L502.38,357.71 L503.91,359.00 L505.44,360.37 L506.98,361.81 L508.51,363.32 L510.04,364.90 L511.57,366.55 L513.10,368.27 L514.63,370.06 L516.16,371.91 L517.69,373.83 L519.22,375.83 L520.75,377.88 L522.28,380.01 L523.81,382.20 L525.34,384.45 L526.87,386.78 L528.40,389.16 L529.93,391.62 L531.46,394.13 L532.99,396.71 L534.52,399.36 L536.05,402.06 L537.59,404.81 L539.12,407.61 L540.65,410.46 L542.18,413.34 L543.71,416.25 L545.24,419.20 L546.77,422.16 L548.30,425.15 L549.83,428.15 L551.36,431.15 L552.89,434.16 L554.42,437.17 L555.95,440.17 L557.48,443.16 L559.01,446.14 L560.54,449.10 L562.07,452.03 L563.60,454.94 L565.13,457.82 L566.66,460.67 L568.20,463.47 L569.73,466.23 L571.26,468.95 L572.79,471.62 L574.32,474.23 L575.85,476.78 L577.38,479.27 L578.91,481.70 L580.44,484.07 L581.97,486.39 L583.50,488.66 L585.03,490.89 L586.56,493.10 L588.09,495.28 L589.62,497.44 L591.15,499.59 L592.68,501.74 L594.21,503.89 L595.74,506.03 L597.27,508.16 L598.81,510.28 L600.34,512.38 L601.87,514.45 L603.40,516.48 L604.93,518.46 L606.46,520.40 L607.99,522.29 L609.52,524.12 L611.05,525.89 L612.58,527.61 L614.11,529.27 L615.64,530.89 L617.17,532.46 L618.70,533.98 L620.23,535.46 L621.76,536.90 L623.29,538.30 L624.82,539.66 L626.35,540.99 L627.88,542.29 L629.42,543.56 L630.95,544.79 L632.48,546.00 L634.01,547.18 L635.54,548.34 L637.07,549.47 L638.60,550.57 L640.13,551.66 L641.66,552.72 L643.19,553.77 L644.72,554.80 L646.25,555.81 L647.78,556.81 L649.31,557.79 L650.84,558.76 L652.37,559.72 L653.90,560.67 L655.43,561.61 L656.96,562.54 L658.49,563.47 L660.03,564.39 L661.56,565.31 L663.09,566.22 L664.62,567.14 L666.15,568.06 L667.68,568.97 L669.21,569.90 L670.74,570.82 L672.27,571.75 L673.80,572.69" stroke="#000" stroke-width="3.0"/>
<path d="M367.70,569.28 L369.23,568.68 L370.76,568.03 L372.29,567.33 L373.82,566.57 L375.35,565.77 L376.88,564.90 L378.41,563.98 L379.94,562.99 L381.47,561.94 L383.00,560.81 L384.54,559.62 L386.07,558.36 L387.60,557.02 L389.13,555.60 L390.66,554.11 L392.19,552.53 L393.72,550.88 L395.25,549.14 L396.78,547.31 L398.31,545.41 L399.84,543.41 L401.37,541.34 L402.90,539.17 L404.43,536.93 L405.96,534.60 L407.49,532.19 L409.02,529.70 L410.55,527.13 L412.08,524.49 L413.62,521.78 L415.15,519.00 L416.68,516.16 L418.21,513.27 L419.74,510.32 L421.27,507.32 L422.80,504.28 L424.33,501.21 L425.86,498.12 L427.39,495.00 L428.92,491.87 L430.45,488.74 L431.98,485.62 L433.51,482.50 L435.04,479.42 L436.57,476.36 L438.10,473.35 L439.63,470.38 L441.16,467.48 L442.69,464.65 L444.22,461.91 L445.76,459.25 L447.29,456.69 L448.82,454.24 L450.35,451.91 L451.88,449.70 L453.41,447.63 L454.94,445.70 L456.47,443.92 L458.00,442.30 L459.53,440.85 L461.06,439.56 L462.59,438.44 L464.12,437.51 L465.65,436.76 L467.18,436.19 L468.71,435.81 L470.24,435.62 L471.77,435.62 L473.30,435.81 L474.83,436.17 L476.37,436.71 L477.90,437.43 L479.43,438.32 L480.96,439.39 L482.49,440.62 L484.02,442.02 L485.55,443.57 L487.08,445.27 L488.61,447.12 L490.14,449.10 L491.67,451.22 L493.20,453.46 L494.73,455.81 L496.26,458.27 L497.79,460.83 L499.32,463.48 L500.85,466.21 L502.38,469.01 L503.91,471.87 L505.44,474.79 L506.98,477.76 L508.51,480.75 L510.04,483.78 L511.57,486.83 L513.10,489.88 L514.63,492.94 L516.16,495.99 L517.69,499.03 L519.22,502.05 L520.75,505.04 L522.28,507.99 L523.81,510.91 L525.34,513.78 L526.87,516.60 L528.40,519.37 L529.93,522.07 L531.46,524.71 L532.99,527.28 L534.52,529.79 L536.05,532.22 L537.59,534.57 L539.12,536.84 L540.65,539.04 L542.18,541.16 L543.71,543.20 L545.24,545.15 L546.77,547.03 L548.30,548.82 L549.83,550.53 L551.36,552.17 L552.89,553.73 L554.42,555.21 L555.95,556.61 L557.48,557.94 L559.01,559.20 L560.54,560.39 L562.07,561.51 L563.60,562.56 L565.13,563.55 L566.66,564.49 L568.20,565.36 L569.73,566.17 L571.26,566.94 L572.79,567.65 L574.32,568.31 L575.85,568.92 L577.38,569.50 L578.91,570.03 L580.44,570.52 L581.97,570.97 L583.50,571.39 L585.03,571.77 L586.56,572.13 L588.09,572.45 L589.62,572.75 L591.15,573.03 L592.68,573.28 L594.21,573.51 L595.74,573.71 L597.27,573.90 L598.81,574.08 L600.34,574.24 L601.87,574.38 L603.40,574.51 L604.93,574.62 L606.46,574.73 L607.99,574.82 L609.52,574.91 L611.05,574.99 L612.58,575.06 L614.11,575.12 L615.64,575.17 L617.17,575.22 L618.70,575.27 L620.23,575.31 L621.76,575.34 L623.29,575.37 L624.82,575.40 L626.35,575.42 L627.88,575.45 L629.42,575.47 L630.95,575.48 L632.48,575.50 L634.01,575.51 L635.54,575.52 L637.07,575.53 L638.60,575.54 L640.13,575.55 L641.66,575.56 L643.19,575.56 L644.72,575.57 L646.25,575.57 L647.78,575.58 L649.31,575.58 L650.84,575.58 L652.37,575.58 L653.90,575.59 L655.43,575.59 L656.96,575.59 L658.49,575.59 L660.03,575.59 L661.56,575.59 L663.09,575.59 L664.62,575.60 L666.15,575.60 L667.68,575.60 L669.21,575.60 L670.74,575.60 L672.27,575.60 L673.80,575.60" stroke="#ff0000" stroke-width="2.8"/>
<path d="M367.70,564.62 L369.23,563.32 L370.76,561.93 L372.29,560.42 L373.82,558.81 L375.35,557.09 L376.88,555.26 L378.41,553.33 L379.94,551.29 L381.47,549.16 L383.00,546.94 L384.54,544.63 L386.07,542.26 L387.60,539.82 L389.13,537.34 L390.66,534.82 L392.19,532.28 L393.72,529.74 L395.25,527.22 L396.78,524.73 L398.31,522.29 L399.84,519.92 L401.37,517.65 L402.90,515.49 L404.43,513.45 L405.96,511.57 L407.49,509.85 L409.02,508.31 L410.55,506.97 L412.08,505.84 L413.62,504.93 L415.15,504.25 L416.68,503.81 L418.21,503.61 L419.74,503.66 L421.27,503.94 L422.80,504.47 L424.33,505.23 L425.86,506.22 L427.39,507.42 L428.92,508.84 L430.45,510.44 L431.98,512.22 L433.51,514.16 L435.04,516.24 L436.57,518.45 L438.10,520.75 L439.63,523.15 L441.16,525.61 L442.69,528.11 L444.22,530.64 L445.76,533.18 L447.29,535.72 L448.82,538.22 L450.35,540.69 L451.88,543.11 L453.41,545.46 L454.94,547.73 L456.47,549.93 L458.00,552.02 L459.53,554.02 L461.06,555.92 L462.59,557.71 L464.12,559.40 L465.65,560.97 L467.18,562.44 L468.71,563.79 L470.24,565.05 L471.77,566.20 L473.30,567.26 L474.83,568.22 L476.37,569.09 L477.90,569.88 L479.43,570.59 L480.96,571.23 L482.49,571.80 L484.02,572.30 L485.55,572.75 L487.08,573.15 L488.61,573.50 L490.14,573.80 L491.67,574.07 L493.20,574.30 L494.73,574.50 L496.26,574.67 L497.79,574.82 L499.32,574.94 L500.85,575.05 L502.38,575.14 L503.91,575.22 L505.44,575.29 L506.98,575.34 L508.51,575.39 L510.04,575.43 L511.57,575.46 L513.10,575.49 L514.63,575.51 L516.16,575.52 L517.69,575.54 L519.22,575.55 L520.75,575.56 L522.28,575.57 L523.81,575.58 L525.34,575.58 L526.87,575.58 L528.40,575.59 L529.93,575.59 L531.46,575.59 L532.99,575.59 L534.52,575.60 L536.05,575.60 L537.59,575.60 L539.12,575.60 L540.65,575.60 L542.18,575.60 L543.71,575.60 L545.24,575.60 L546.77,575.60 L548.30,575.60 L549.83,575.60 L551.36,575.60 L552.89,575.60 L554.42,575.60 L555.95,575.60 L557.48,575.60 L559.01,575.60 L560.54,575.60 L562.07,575.60 L563.60,575.60 L565.13,575.60 L566.66,575.60 L568.20,575.60 L569.73,575.60 L571.26,575.60 L572.79,575.60 L574.32,575.60 L575.85,575.60 L577.38,575.60 L578.91,575.60 L580.44,575.60 L581.97,575.60 L583.50,575.60 L585.03,575.60 L586.56,575.60 L588.09,575.60 L589.62,575.60 L591.15,575.60 L592.68,575.60 L594.21,575.60 L595.74,575.60 L597.27,575.60 L598.81,575.60 L600.34,575.60 L601.87,575.60 L603.40,575.60 L604.93,575.60 L606.46,575.60 L607.99,575.60 L609.52,575.60 L611.05,575.60 L612.58,575.60 L614.11,575.60 L615.64,575.60 L617.17,575.60 L618.70,575.60 L620.23,575.60 L621.76,575.60 L623.29,575.60 L624.82,575.60 L626.35,575.60 L627.88,575.60 L629.42,575.60 L630.95,575.60 L632.48,575.60 L634.01,575.60 L635.54,575.60 L637.07,575.60 L638.60,575.60 L640.13,575.60 L641.66,575.60 L643.19,575.60 L644.72,575.60 L646.25,575.60 L647.78,575.60 L649.31,575.60 L650.84,575.60 L652.37,575.60 L653.90,575.60 L655.43,575.60 L656.96,575.60 L658.49,575.60 L660.03,575.60 L661.56,575.60 L663.09,575.60 L664.62,575.60 L666.15,575.60 L667.68,575.60 L669.21,575.60 L670.74,575.60 L672.27,575.60 L673.80,575.60" stroke="#0000ff" stroke-width="2.8"/>
<path d="M367.70,573.09 L369.23,572.90 L370.76,572.70 L372.29,572.49 L373.82,572.26 L375.35,572.02 L376.88,571.76 L378.41,571.48 L379.94,571.19 L381.47,570.89 L383.00,570.56 L384.54,570.22 L386.07,569.85 L387.60,569.47 L389.13,569.07 L390.66,568.64 L392.19,568.19 L393.72,567.71 L395.25,567.22 L396.78,566.69 L398.31,566.14 L399.84,565.56 L401.37,564.96 L402.90,564.33 L404.43,563.66 L405.96,562.97 L407.49,562.24 L409.02,561.49 L410.55,560.70 L412.08,559.88 L413.62,559.02 L415.15,558.13 L416.68,557.20 L418.21,556.24 L419.74,555.24 L421.27,554.20 L422.80,553.13 L424.33,552.02 L425.86,550.87 L427.39,549.68 L428.92,548.45 L430.45,547.19 L431.98,545.88 L433.51,544.54 L435.04,543.16 L436.57,541.74 L438.10,540.29 L439.63,538.80 L441.16,537.26 L442.69,535.70 L444.22,534.10 L445.76,532.46 L447.29,530.79 L448.82,529.08 L450.35,527.35 L451.88,525.58 L453.41,523.79 L454.94,521.96 L456.47,520.11 L458.00,518.24 L459.53,516.34 L461.06,514.42 L462.59,512.49 L464.12,510.54 L465.65,508.57 L467.18,506.59 L468.71,504.60 L470.24,502.60 L471.77,500.60 L473.30,498.60 L474.83,496.59 L476.37,494.59 L477.90,492.60 L479.43,490.61 L480.96,488.64 L482.49,486.68 L484.02,484.74 L485.55,482.83 L487.08,480.93 L488.61,479.07 L490.14,477.23 L491.67,475.43 L493.20,473.66 L494.73,471.94 L496.26,470.25 L497.79,468.62 L499.32,467.03 L500.85,465.49 L502.38,464.01 L503.91,462.59 L505.44,461.23 L506.98,459.92 L508.51,458.69 L510.04,457.52 L511.57,456.42 L513.10,455.40 L514.63,454.45 L516.16,453.57 L517.69,452.77 L519.22,452.05 L520.75,451.41 L522.28,450.86 L523.81,450.39 L525.34,450.00 L526.87,449.69 L528.40,449.48 L529.93,449.35 L531.46,449.30 L532.99,449.34 L534.52,449.47 L536.05,449.69 L537.59,449.99 L539.12,450.38 L540.65,450.86 L542.18,451.42 L543.71,452.07 L545.24,452.79 L546.77,453.60 L548.30,454.49 L549.83,455.45 L551.36,456.49 L552.89,457.60 L554.42,458.79 L555.95,460.04 L557.48,461.36 L559.01,462.74 L560.54,464.18 L562.07,465.68 L563.60,467.24 L565.13,468.85 L566.66,470.51 L568.20,472.21 L569.73,473.96 L571.26,475.74 L572.79,477.57 L574.32,479.43 L575.85,481.31 L577.38,483.23 L578.91,485.17 L580.44,487.13 L581.97,489.11 L583.50,491.10 L585.03,493.10 L586.56,495.12 L588.09,497.14 L589.62,499.16 L591.15,501.18 L592.68,503.20 L594.21,505.21 L595.74,507.21 L597.27,509.20 L598.81,511.18 L600.34,513.15 L601.87,515.10 L603.40,517.02 L604.93,518.93 L606.46,520.81 L607.99,522.66 L609.52,524.49 L611.05,526.29 L612.58,528.06 L614.11,529.80 L615.64,531.50 L617.17,533.17 L618.70,534.81 L620.23,536.41 L621.76,537.97 L623.29,539.50 L624.82,540.99 L626.35,542.44 L627.88,543.85 L629.42,545.22 L630.95,546.56 L632.48,547.85 L634.01,549.11 L635.54,550.32 L637.07,551.50 L638.60,552.64 L640.13,553.74 L641.66,554.80 L643.19,555.82 L644.72,556.81 L646.25,557.76 L647.78,558.67 L649.31,559.55 L650.84,560.39 L652.37,561.20 L653.90,561.98 L655.43,562.72 L656.96,563.43 L658.49,564.11 L660.03,564.76 L661.56,565.38 L663.09,565.97 L664.62,566.53 L666.15,567.07 L667.68,567.58 L669.21,568.06 L670.74,568.52 L672.27,568.96 L673.80,569.37" stroke="#00ff00" stroke-width="2.8"/>
<path d="M367.70,551.40 L369.23,548.45 L370.76,545.28 L372.29,541.95 L373.82,538.50 L375.35,534.97 L376.88,531.38 L378.41,527.74 L379.94,524.06 L381.47,520.36 L383.00,516.63 L384.54,512.86 L386.07,509.07 L387.60,505.23 L389.13,501.35 L390.66,497.42 L392.19,493.41 L393.72,489.34 L395.25,485.17 L396.78,480.91 L398.31,476.55 L399.84,472.07 L401.37,467.53 L402.90,462.93 L404.43,458.32 L405.96,453.71 L407.49,449.14 L409.02,444.63 L410.55,440.22 L412.08,435.91 L413.62,431.75 L415.15,427.73 L416.68,423.85 L418.21,420.09 L419.74,416.44 L421.27,412.90 L422.80,409.46 L424.33,406.11 L425.86,402.84 L427.39,399.66 L428.92,396.57 L430.45,393.57 L431.98,390.66 L433.51,387.83 L435.04,385.09 L436.57,382.45 L438.10,379.89 L439.63,377.43 L441.16,375.05 L442.69,372.77 L444.22,370.58 L445.76,368.48 L447.29,366.47 L448.82,364.56 L450.35,362.74 L451.88,361.01 L453.41,359.38 L454.94,357.84 L456.47,356.40 L458.00,355.05 L459.53,353.79 L461.06,352.63 L462.59,351.57 L464.12,350.61 L465.65,349.74 L467.18,348.97 L468.71,348.30 L470.24,347.72 L471.77,347.24 L473.30,346.86 L474.83,346.57 L476.37,346.38 L477.90,346.28 L479.43,346.27 L480.96,346.35 L482.49,346.52 L484.02,346.78 L485.55,347.12 L487.08,347.55 L488.61,348.06 L490.14,348.66 L491.67,349.34 L493.20,350.10 L494.73,350.94 L496.26,351.86 L497.79,352.86 L499.32,353.93 L500.85,355.08 L502.38,356.31 L503.91,357.60 L505.44,358.97 L506.98,360.41 L508.51,361.92 L510.04,363.50 L511.57,365.15 L513.10,366.87 L514.63,368.66 L516.16,370.51 L517.69,372.43 L519.22,374.43 L520.75,376.48 L522.28,378.61 L523.81,380.80 L525.34,383.05 L526.87,385.38 L528.40,387.76 L529.93,390.22 L531.46,392.73 L532.99,395.31 L534.52,397.96 L536.05,400.66 L537.59,403.41 L539.12,406.21 L540.65,409.06 L542.18,411.94 L543.71,414.85 L545.24,417.80 L546.77,420.76 L548.30,423.75 L549.83,426.75 L551.36,429.75 L552.89,432.76 L554.42,435.77 L555.95,438.77 L557.48,441.76 L559.01,444.74 L560.54,447.70 L562.07,450.63 L563.60,453.54 L565.13,456.42 L566.66,459.27 L568.20,462.07 L569.73,464.83 L571.26,467.55 L572.79,470.22 L574.32,472.83 L575.85,475.38 L577.38,477.87 L578.91,480.30 L580.44,482.67 L581.97,484.99 L583.50,487.26 L585.03,489.49 L586.56,491.70 L588.09,493.88 L589.62,496.04 L591.15,498.19 L592.68,500.34 L594.21,502.49 L595.74,504.63 L597.27,506.76 L598.81,508.88 L600.34,510.98 L601.87,513.05 L603.40,515.08 L604.93,517.06 L606.46,519.00 L607.99,520.89 L609.52,522.72 L611.05,524.49 L612.58,526.21 L614.11,527.87 L615.64,529.49 L617.17,531.06 L618.70,532.58 L620.23,534.06 L621.76,535.50 L623.29,536.90 L624.82,538.26 L626.35,539.59 L627.88,540.89 L629.42,542.15 L630.95,543.39 L632.48,544.59 L634.01,545.77 L635.54,546.93 L637.07,548.05 L638.60,549.16 L640.13,550.24 L641.66,551.30 L643.19,552.34 L644.72,553.36 L646.25,554.37 L647.78,555.35 L649.31,556.32 L650.84,557.28 L652.37,558.21 L653.90,559.14 L655.43,560.05 L656.96,560.94 L658.49,561.82 L660.03,562.68 L661.56,563.53 L663.09,564.35 L664.62,565.15 L666.15,565.92 L667.68,566.66 L669.21,567.36 L670.74,568.01 L672.27,568.59 L673.80,569.10" stroke="#00ffff" stroke-width="2.8" stroke-dasharray="13.00 18.05" stroke-dashoffset="-3.00" stroke-linecap="round"/>
</g>
<text transform="translate(502.71,329.20) scale(0.9792,1)" font-size="11.818" font-weight="normal" fill="#000"  stroke="#000" stroke-width="0.1">STC4</text>
<text transform="translate(471.44,391.80) scale(0.9582,1)" font-size="12.121" font-weight="normal" fill="#000"  stroke="#000" stroke-width="0.1">2069</text>
<line x1="478.90" y1="399.10" x2="472.98" y2="426.36" stroke="#000" stroke-width="1.15"/><polygon points="471.50,433.20 470.86,424.36 475.75,425.42" fill="#000"/>
<text transform="translate(375.83,462.50) scale(0.9360,1)" font-size="12.576" font-weight="normal" fill="#000"  stroke="#000" stroke-width="0.1">2079</text>
<line x1="395.20" y1="470.80" x2="416.24" y2="495.29" stroke="#000" stroke-width="1.15"/><polygon points="420.80,500.60 413.36,495.78 417.16,492.52" fill="#000"/>
<text transform="translate(551.83,414.40) scale(0.9425,1)" font-size="12.424" font-weight="normal" fill="#000"  stroke="#000" stroke-width="0.1">2058</text>
<line x1="554.60" y1="420.00" x2="539.38" y2="441.21" stroke="#000" stroke-width="1.15"/><polygon points="535.30,446.90 538.22,438.54 542.29,441.45" fill="#000"/>
<text transform="translate(356.82,592.40) scale(0.9658,1)" font-size="11.212" font-weight="normal" fill="#000"  stroke="#000" stroke-width="0.16">2090</text>
<text transform="translate(407.83,592.40) scale(0.9658,1)" font-size="11.212" font-weight="normal" fill="#000"  stroke="#000" stroke-width="0.16">2080</text>
<text transform="translate(458.85,592.40) scale(0.9658,1)" font-size="11.212" font-weight="normal" fill="#000"  stroke="#000" stroke-width="0.16">2070</text>
<text transform="translate(509.87,592.40) scale(0.9658,1)" font-size="11.212" font-weight="normal" fill="#000"  stroke="#000" stroke-width="0.16">2060</text>
<text transform="translate(560.88,592.40) scale(0.9658,1)" font-size="11.212" font-weight="normal" fill="#000"  stroke="#000" stroke-width="0.16">2050</text>
<text transform="translate(611.90,592.40) scale(0.9658,1)" font-size="11.212" font-weight="normal" fill="#000"  stroke="#000" stroke-width="0.16">2040</text>
<text transform="translate(662.92,592.40) scale(0.9658,1)" font-size="11.212" font-weight="normal" fill="#000"  stroke="#000" stroke-width="0.16">2030</text>
<text transform="translate(470.08,613.60) scale(0.9213,1)" font-size="12.615" font-weight="bold">Wavenumber (Cm<tspan font-size="7.82" dy="-4.54">-1</tspan><tspan dy="4.54">)</tspan></text>
<text transform="translate(354.20,484.88) rotate(-90) scale(1.1390,1)" font-size="11.000" font-weight="bold">Intensity (a.u.)</text>
<rect x="189.60" y="629.10" width="306.80" height="261.10" fill="none" stroke="#444" stroke-width="1.1" stroke-linejoin="round"/>
<line x1="189.60" y1="890.20" x2="189.60" y2="894.80" stroke="#444" stroke-width="1.1"/>
<line x1="215.17" y1="890.20" x2="215.17" y2="893.00" stroke="#444" stroke-width="1.1"/>
<line x1="240.73" y1="890.20" x2="240.73" y2="894.80" stroke="#444" stroke-width="1.1"/>
<line x1="266.30" y1="890.20" x2="266.30" y2="893.00" stroke="#444" stroke-width="1.1"/>
<line x1="291.87" y1="890.20" x2="291.87" y2="894.80" stroke="#444" stroke-width="1.1"/>
<line x1="317.43" y1="890.20" x2="317.43" y2="893.00" stroke="#444" stroke-width="1.1"/>
<line x1="343.00" y1="890.20" x2="343.00" y2="894.80" stroke="#444" stroke-width="1.1"/>
<line x1="368.57" y1="890.20" x2="368.57" y2="893.00" stroke="#444" stroke-width="1.1"/>
<line x1="394.13" y1="890.20" x2="394.13" y2="894.80" stroke="#444" stroke-width="1.1"/>
<line x1="419.70" y1="890.20" x2="419.70" y2="893.00" stroke="#444" stroke-width="1.1"/>
<line x1="445.27" y1="890.20" x2="445.27" y2="894.80" stroke="#444" stroke-width="1.1"/>
<line x1="470.83" y1="890.20" x2="470.83" y2="893.00" stroke="#444" stroke-width="1.1"/>
<line x1="496.40" y1="890.20" x2="496.40" y2="894.80" stroke="#444" stroke-width="1.1"/>
<g clip-path="url(#clipSTC5)" fill="none" stroke-linejoin="round">
<path d="M189.60,876.93 L191.13,873.66 L192.67,870.29 L194.20,866.82 L195.74,863.26 L197.27,859.61 L198.80,855.89 L200.34,852.09 L201.87,848.22 L203.41,844.30 L204.94,840.31 L206.47,836.28 L208.01,832.19 L209.54,828.07 L211.08,823.91 L212.61,819.72 L214.14,815.51 L215.68,811.28 L217.21,807.04 L218.75,802.79 L220.28,798.54 L221.81,794.29 L223.35,790.05 L224.88,785.82 L226.42,781.61 L227.95,777.43 L229.48,773.28 L231.02,769.17 L232.55,765.10 L234.09,761.07 L235.62,757.10 L237.15,753.19 L238.69,749.34 L240.22,745.56 L241.76,741.86 L243.29,738.23 L244.82,734.68 L246.36,731.21 L247.89,727.82 L249.43,724.51 L250.96,721.28 L252.49,718.13 L254.03,715.06 L255.56,712.07 L257.10,709.17 L258.63,706.35 L260.16,703.61 L261.70,700.95 L263.23,698.38 L264.77,695.89 L266.30,693.49 L267.83,691.18 L269.37,688.95 L270.90,686.80 L272.44,684.75 L273.97,682.78 L275.50,680.90 L277.04,679.11 L278.57,677.41 L280.11,675.80 L281.64,674.28 L283.17,672.85 L284.71,671.51 L286.24,670.27 L287.78,669.11 L289.31,668.05 L290.84,667.08 L292.38,666.21 L293.91,665.43 L295.45,664.74 L296.98,664.16 L298.51,663.66 L300.05,663.27 L301.58,662.97 L303.12,662.76 L304.65,662.65 L306.18,662.64 L307.72,662.71 L309.25,662.88 L310.79,663.13 L312.32,663.48 L313.85,663.91 L315.39,664.43 L316.92,665.03 L318.46,665.71 L319.99,666.48 L321.52,667.33 L323.06,668.26 L324.59,669.26 L326.13,670.35 L327.66,671.51 L329.19,672.74 L330.73,674.05 L332.26,675.43 L333.80,676.88 L335.33,678.41 L336.86,680.00 L338.40,681.66 L339.93,683.38 L341.47,685.17 L343.00,687.02 L344.53,688.94 L346.07,690.92 L347.60,692.96 L349.14,695.05 L350.67,697.21 L352.20,699.42 L353.74,701.68 L355.27,704.00 L356.81,706.36 L358.34,708.77 L359.87,711.22 L361.41,713.71 L362.94,716.24 L364.48,718.80 L366.01,721.40 L367.54,724.02 L369.08,726.68 L370.61,729.35 L372.15,732.05 L373.68,734.77 L375.21,737.50 L376.75,740.25 L378.28,743.00 L379.82,745.77 L381.35,748.54 L382.88,751.32 L384.42,754.09 L385.95,756.87 L387.49,759.63 L389.02,762.40 L390.55,765.15 L392.09,767.88 L393.62,770.61 L395.16,773.32 L396.69,776.01 L398.22,778.69 L399.76,781.35 L401.29,783.99 L402.83,786.61 L404.36,789.21 L405.89,791.79 L407.43,794.35 L408.96,796.88 L410.50,799.40 L412.03,801.88 L413.56,804.34 L415.10,806.77 L416.63,809.18 L418.17,811.55 L419.70,813.90 L421.23,816.22 L422.77,818.50 L424.30,820.75 L425.84,822.97 L427.37,825.15 L428.90,827.30 L430.44,829.41 L431.97,831.49 L433.51,833.52 L435.04,835.52 L436.57,837.48 L438.11,839.39 L439.64,841.27 L441.18,843.10 L442.71,844.89 L444.24,846.63 L445.78,848.33 L447.31,849.97 L448.85,851.58 L450.38,853.13 L451.91,854.64 L453.45,856.11 L454.98,857.53 L456.52,858.92 L458.05,860.27 L459.58,861.58 L461.12,862.86 L462.65,864.10 L464.19,865.32 L465.72,866.51 L467.25,867.67 L468.79,868.81 L470.32,869.92 L471.86,871.02 L473.39,872.10 L474.92,873.16 L476.46,874.20 L477.99,875.23 L479.53,876.26 L481.06,877.27 L482.59,878.27 L484.13,879.27 L485.66,880.27 L487.20,881.27 L488.73,882.26 L490.26,883.26 L491.80,884.26 L493.33,885.27 L494.87,886.29 L496.40,887.32" stroke="#000" stroke-width="3.0"/>
<path d="M189.60,884.19 L191.13,883.60 L192.67,882.97 L194.20,882.28 L195.74,881.55 L197.27,880.76 L198.80,879.91 L200.34,879.01 L201.87,878.04 L203.41,877.01 L204.94,875.91 L206.47,874.74 L208.01,873.50 L209.54,872.19 L211.08,870.80 L212.61,869.33 L214.14,867.79 L215.68,866.17 L217.21,864.47 L218.75,862.69 L220.28,860.82 L221.81,858.88 L223.35,856.85 L224.88,854.75 L226.42,852.57 L227.95,850.31 L229.48,847.97 L231.02,845.57 L232.55,843.09 L234.09,840.55 L235.62,837.95 L237.15,835.30 L238.69,832.59 L240.22,829.83 L241.76,827.04 L243.29,824.21 L244.82,821.36 L246.36,818.48 L247.89,815.60 L249.43,812.71 L250.96,809.82 L252.49,806.95 L254.03,804.10 L255.56,801.28 L257.10,798.50 L258.63,795.77 L260.16,793.10 L261.70,790.51 L263.23,787.99 L264.77,785.55 L266.30,783.22 L267.83,780.99 L269.37,778.87 L270.90,776.88 L272.44,775.02 L273.97,773.30 L275.50,771.73 L277.04,770.31 L278.57,769.04 L280.11,767.95 L281.64,767.02 L283.17,766.26 L284.71,765.68 L286.24,765.27 L287.78,765.05 L289.31,765.01 L290.84,765.15 L292.38,765.47 L293.91,765.96 L295.45,766.64 L296.98,767.49 L298.51,768.51 L300.05,769.70 L301.58,771.05 L303.12,772.55 L304.65,774.21 L306.18,776.00 L307.72,777.93 L309.25,779.99 L310.79,782.17 L312.32,784.45 L313.85,786.84 L315.39,789.32 L316.92,791.89 L318.46,794.52 L319.99,797.22 L321.52,799.98 L323.06,802.78 L324.59,805.62 L326.13,808.48 L327.66,811.36 L329.19,814.25 L330.73,817.14 L332.26,820.02 L333.80,822.89 L335.33,825.73 L336.86,828.54 L338.40,831.31 L339.93,834.04 L341.47,836.72 L343.00,839.35 L344.53,841.92 L346.07,844.42 L347.60,846.86 L349.14,849.23 L350.67,851.52 L352.20,853.74 L353.74,855.88 L355.27,857.94 L356.81,859.93 L358.34,861.83 L359.87,863.65 L361.41,865.39 L362.94,867.05 L364.48,868.63 L366.01,870.13 L367.54,871.55 L369.08,872.90 L370.61,874.17 L372.15,875.37 L373.68,876.50 L375.21,877.57 L376.75,878.56 L378.28,879.50 L379.82,880.37 L381.35,881.19 L382.88,881.95 L384.42,882.65 L385.95,883.31 L387.49,883.92 L389.02,884.48 L390.55,885.00 L392.09,885.48 L393.62,885.92 L395.16,886.33 L396.69,886.70 L398.22,887.04 L399.76,887.35 L401.29,887.64 L402.83,887.90 L404.36,888.13 L405.89,888.35 L407.43,888.54 L408.96,888.72 L410.50,888.88 L412.03,889.02 L413.56,889.15 L415.10,889.27 L416.63,889.38 L418.17,889.47 L419.70,889.55 L421.23,889.63 L422.77,889.70 L424.30,889.76 L425.84,889.81 L427.37,889.86 L428.90,889.90 L430.44,889.94 L431.97,889.97 L433.51,890.00 L435.04,890.03 L436.57,890.05 L438.11,890.07 L439.64,890.09 L441.18,890.10 L442.71,890.11 L444.24,890.13 L445.78,890.14 L447.31,890.14 L448.85,890.15 L450.38,890.16 L451.91,890.16 L453.45,890.17 L454.98,890.17 L456.52,890.18 L458.05,890.18 L459.58,890.18 L461.12,890.19 L462.65,890.19 L464.19,890.19 L465.72,890.19 L467.25,890.19 L468.79,890.19 L470.32,890.20 L471.86,890.20 L473.39,890.20 L474.92,890.20 L476.46,890.20 L477.99,890.20 L479.53,890.20 L481.06,890.20 L482.59,890.20 L484.13,890.20 L485.66,890.20 L487.20,890.20 L488.73,890.20 L490.26,890.20 L491.80,890.20 L493.33,890.20 L494.87,890.20 L496.40,890.20" stroke="#ff0000" stroke-width="2.8"/>
<path d="M189.60,882.46 L191.13,881.42 L192.67,880.28 L194.20,879.04 L195.74,877.70 L197.27,876.24 L198.80,874.68 L200.34,873.01 L201.87,871.24 L203.41,869.37 L204.94,867.40 L206.47,865.34 L208.01,863.21 L209.54,861.01 L211.08,858.75 L212.61,856.46 L214.14,854.14 L215.68,851.81 L217.21,849.49 L218.75,847.20 L220.28,844.96 L221.81,842.80 L223.35,840.72 L224.88,838.76 L226.42,836.94 L227.95,835.26 L229.48,833.76 L231.02,832.44 L232.55,831.33 L234.09,830.43 L235.62,829.75 L237.15,829.31 L238.69,829.11 L240.22,829.15 L241.76,829.43 L243.29,829.95 L244.82,830.70 L246.36,831.67 L247.89,832.86 L249.43,834.24 L250.96,835.80 L252.49,837.53 L254.03,839.40 L255.56,841.40 L257.10,843.51 L258.63,845.70 L260.16,847.96 L261.70,850.26 L263.23,852.58 L264.77,854.91 L266.30,857.23 L267.83,859.51 L269.37,861.75 L270.90,863.93 L272.44,866.04 L273.97,868.06 L275.50,870.00 L277.04,871.84 L278.57,873.58 L280.11,875.21 L281.64,876.74 L283.17,878.16 L284.71,879.47 L286.24,880.67 L287.78,881.78 L289.31,882.78 L290.84,883.69 L292.38,884.52 L293.91,885.25 L295.45,885.91 L296.98,886.50 L298.51,887.02 L300.05,887.47 L301.58,887.87 L303.12,888.22 L304.65,888.53 L306.18,888.79 L307.72,889.01 L309.25,889.21 L310.79,889.37 L312.32,889.51 L313.85,889.63 L315.39,889.73 L316.92,889.82 L318.46,889.89 L319.99,889.95 L321.52,889.99 L323.06,890.03 L324.59,890.07 L326.13,890.09 L327.66,890.11 L329.19,890.13 L330.73,890.15 L332.26,890.16 L333.80,890.17 L335.33,890.17 L336.86,890.18 L338.40,890.18 L339.93,890.19 L341.47,890.19 L343.00,890.19 L344.53,890.19 L346.07,890.20 L347.60,890.20 L349.14,890.20 L350.67,890.20 L352.20,890.20 L353.74,890.20 L355.27,890.20 L356.81,890.20 L358.34,890.20 L359.87,890.20 L361.41,890.20 L362.94,890.20 L364.48,890.20 L366.01,890.20 L367.54,890.20 L369.08,890.20 L370.61,890.20 L372.15,890.20 L373.68,890.20 L375.21,890.20 L376.75,890.20 L378.28,890.20 L379.82,890.20 L381.35,890.20 L382.88,890.20 L384.42,890.20 L385.95,890.20 L387.49,890.20 L389.02,890.20 L390.55,890.20 L392.09,890.20 L393.62,890.20 L395.16,890.20 L396.69,890.20 L398.22,890.20 L399.76,890.20 L401.29,890.20 L402.83,890.20 L404.36,890.20 L405.89,890.20 L407.43,890.20 L408.96,890.20 L410.50,890.20 L412.03,890.20 L413.56,890.20 L415.10,890.20 L416.63,890.20 L418.17,890.20 L419.70,890.20 L421.23,890.20 L422.77,890.20 L424.30,890.20 L425.84,890.20 L427.37,890.20 L428.90,890.20 L430.44,890.20 L431.97,890.20 L433.51,890.20 L435.04,890.20 L436.57,890.20 L438.11,890.20 L439.64,890.20 L441.18,890.20 L442.71,890.20 L444.24,890.20 L445.78,890.20 L447.31,890.20 L448.85,890.20 L450.38,890.20 L451.91,890.20 L453.45,890.20 L454.98,890.20 L456.52,890.20 L458.05,890.20 L459.58,890.20 L461.12,890.20 L462.65,890.20 L464.19,890.20 L465.72,890.20 L467.25,890.20 L468.79,890.20 L470.32,890.20 L471.86,890.20 L473.39,890.20 L474.92,890.20 L476.46,890.20 L477.99,890.20 L479.53,890.20 L481.06,890.20 L482.59,890.20 L484.13,890.20 L485.66,890.20 L487.20,890.20 L488.73,890.20 L490.26,890.20 L491.80,890.20 L493.33,890.20 L494.87,890.20 L496.40,890.20" stroke="#0000ff" stroke-width="2.8"/>
<path d="M189.60,886.54 L191.13,886.27 L192.67,885.99 L194.20,885.68 L195.74,885.36 L197.27,885.02 L198.80,884.65 L200.34,884.27 L201.87,883.86 L203.41,883.44 L204.94,882.98 L206.47,882.50 L208.01,882.00 L209.54,881.47 L211.08,880.91 L212.61,880.32 L214.14,879.70 L215.68,879.05 L217.21,878.37 L218.75,877.65 L220.28,876.90 L221.81,876.11 L223.35,875.29 L224.88,874.43 L226.42,873.54 L227.95,872.60 L229.48,871.63 L231.02,870.61 L232.55,869.55 L234.09,868.45 L235.62,867.31 L237.15,866.12 L238.69,864.89 L240.22,863.62 L241.76,862.30 L243.29,860.93 L244.82,859.52 L246.36,858.06 L247.89,856.55 L249.43,855.00 L250.96,853.40 L252.49,851.76 L254.03,850.07 L255.56,848.34 L257.10,846.55 L258.63,844.73 L260.16,842.86 L261.70,840.95 L263.23,838.99 L264.77,837.00 L266.30,834.96 L267.83,832.88 L269.37,830.77 L270.90,828.62 L272.44,826.44 L273.97,824.23 L275.50,821.98 L277.04,819.71 L278.57,817.41 L280.11,815.09 L281.64,812.74 L283.17,810.38 L284.71,808.00 L286.24,805.61 L287.78,803.21 L289.31,800.80 L290.84,798.39 L292.38,795.97 L293.91,793.56 L295.45,791.16 L296.98,788.76 L298.51,786.38 L300.05,784.01 L301.58,781.66 L303.12,779.34 L304.65,777.05 L306.18,774.78 L307.72,772.56 L309.25,770.37 L310.79,768.22 L312.32,766.12 L313.85,764.07 L315.39,762.07 L316.92,760.13 L318.46,758.26 L319.99,756.44 L321.52,754.69 L323.06,753.02 L324.59,751.42 L326.13,749.89 L327.66,748.45 L329.19,747.09 L330.73,745.81 L332.26,744.62 L333.80,743.52 L335.33,742.52 L336.86,741.61 L338.40,740.80 L339.93,740.08 L341.47,739.46 L343.00,738.95 L344.53,738.54 L346.07,738.22 L347.60,738.02 L349.14,737.91 L350.67,737.91 L352.20,738.02 L353.74,738.23 L355.27,738.54 L356.81,738.96 L358.34,739.48 L359.87,740.10 L361.41,740.82 L362.94,741.64 L364.48,742.55 L366.01,743.57 L367.54,744.67 L369.08,745.87 L370.61,747.15 L372.15,748.52 L373.68,749.98 L375.21,751.51 L376.75,753.12 L378.28,754.81 L379.82,756.57 L381.35,758.39 L382.88,760.28 L384.42,762.23 L385.95,764.24 L387.49,766.30 L389.02,768.41 L390.55,770.57 L392.09,772.77 L393.62,775.01 L395.16,777.29 L396.69,779.59 L398.22,781.93 L399.76,784.28 L401.29,786.66 L402.83,789.05 L404.36,791.46 L405.89,793.87 L407.43,796.29 L408.96,798.71 L410.50,801.13 L412.03,803.55 L413.56,805.96 L415.10,808.36 L416.63,810.74 L418.17,813.11 L419.70,815.46 L421.23,817.79 L422.77,820.09 L424.30,822.37 L425.84,824.61 L427.37,826.83 L428.90,829.01 L430.44,831.16 L431.97,833.28 L433.51,835.35 L435.04,837.39 L436.57,839.38 L438.11,841.33 L439.64,843.24 L441.18,845.11 L442.71,846.93 L444.24,848.71 L445.78,850.44 L447.31,852.13 L448.85,853.77 L450.38,855.36 L451.91,856.91 L453.45,858.40 L454.98,859.86 L456.52,861.26 L458.05,862.62 L459.58,863.94 L461.12,865.21 L462.65,866.43 L464.19,867.61 L465.72,868.74 L467.25,869.84 L468.79,870.89 L470.32,871.90 L471.86,872.86 L473.39,873.79 L474.92,874.68 L476.46,875.53 L477.99,876.34 L479.53,877.12 L481.06,877.86 L482.59,878.57 L484.13,879.25 L485.66,879.89 L487.20,880.50 L488.73,881.09 L490.26,881.64 L491.80,882.16 L493.33,882.66 L494.87,883.13 L496.40,883.58" stroke="#00ff00" stroke-width="2.8"/>
<path d="M189.60,871.10 L191.13,868.70 L192.67,866.03 L194.20,863.12 L195.74,860.01 L197.27,856.73 L198.80,853.30 L200.34,849.73 L201.87,846.06 L203.41,842.28 L204.94,838.42 L206.47,834.48 L208.01,830.47 L209.54,826.41 L211.08,822.31 L212.61,818.16 L214.14,813.98 L215.68,809.78 L217.21,805.55 L218.75,801.32 L220.28,797.08 L221.81,792.84 L223.35,788.61 L224.88,784.39 L226.42,780.19 L227.95,776.01 L229.48,771.87 L231.02,767.76 L232.55,763.69 L234.09,759.67 L235.62,755.70 L237.15,751.79 L238.69,747.94 L240.22,744.16 L241.76,740.46 L243.29,736.83 L244.82,733.28 L246.36,729.81 L247.89,726.42 L249.43,723.11 L250.96,719.88 L252.49,716.73 L254.03,713.66 L255.56,710.67 L257.10,707.77 L258.63,704.94 L260.16,702.21 L261.70,699.55 L263.23,696.98 L264.77,694.49 L266.30,692.09 L267.83,689.78 L269.37,687.55 L270.90,685.40 L272.44,683.35 L273.97,681.38 L275.50,679.50 L277.04,677.71 L278.57,676.01 L280.11,674.40 L281.64,672.88 L283.17,671.45 L284.71,670.11 L286.24,668.87 L287.78,667.71 L289.31,666.65 L290.84,665.68 L292.38,664.81 L293.91,664.03 L295.45,663.34 L296.98,662.76 L298.51,662.26 L300.05,661.87 L301.58,661.57 L303.12,661.36 L304.65,661.25 L306.18,661.24 L307.72,661.31 L309.25,661.48 L310.79,661.73 L312.32,662.08 L313.85,662.51 L315.39,663.03 L316.92,663.63 L318.46,664.31 L319.99,665.08 L321.52,665.93 L323.06,666.86 L324.59,667.86 L326.13,668.95 L327.66,670.11 L329.19,671.34 L330.73,672.65 L332.26,674.03 L333.80,675.48 L335.33,677.01 L336.86,678.60 L338.40,680.26 L339.93,681.98 L341.47,683.77 L343.00,685.62 L344.53,687.54 L346.07,689.52 L347.60,691.56 L349.14,693.65 L350.67,695.81 L352.20,698.02 L353.74,700.28 L355.27,702.60 L356.81,704.96 L358.34,707.37 L359.87,709.82 L361.41,712.31 L362.94,714.84 L364.48,717.40 L366.01,720.00 L367.54,722.62 L369.08,725.28 L370.61,727.95 L372.15,730.65 L373.68,733.37 L375.21,736.10 L376.75,738.85 L378.28,741.60 L379.82,744.37 L381.35,747.14 L382.88,749.92 L384.42,752.69 L385.95,755.47 L387.49,758.23 L389.02,761.00 L390.55,763.75 L392.09,766.48 L393.62,769.21 L395.16,771.92 L396.69,774.61 L398.22,777.29 L399.76,779.95 L401.29,782.59 L402.83,785.21 L404.36,787.81 L405.89,790.39 L407.43,792.95 L408.96,795.48 L410.50,798.00 L412.03,800.48 L413.56,802.94 L415.10,805.37 L416.63,807.78 L418.17,810.15 L419.70,812.50 L421.23,814.82 L422.77,817.10 L424.30,819.35 L425.84,821.57 L427.37,823.75 L428.90,825.90 L430.44,828.01 L431.97,830.09 L433.51,832.12 L435.04,834.12 L436.57,836.08 L438.11,837.99 L439.64,839.87 L441.18,841.70 L442.71,843.49 L444.24,845.23 L445.78,846.92 L447.31,848.57 L448.85,850.18 L450.38,851.73 L451.91,853.24 L453.45,854.71 L454.98,856.13 L456.52,857.51 L458.05,858.86 L459.58,860.17 L461.12,861.45 L462.65,862.69 L464.19,863.91 L465.72,865.09 L467.25,866.25 L468.79,867.38 L470.32,868.49 L471.86,869.57 L473.39,870.64 L474.92,871.69 L476.46,872.71 L477.99,873.72 L479.53,874.72 L481.06,875.70 L482.59,876.66 L484.13,877.61 L485.66,878.54 L487.20,879.46 L488.73,880.35 L490.26,881.23 L491.80,882.08 L493.33,882.89 L494.87,883.67 L496.40,884.40" stroke="#00ffff" stroke-width="2.8" stroke-dasharray="13.00 17.80" stroke-dashoffset="-4.20" stroke-linecap="round"/>
</g>
<text transform="translate(321.18,643.80) scale(0.9840,1)" font-size="12.273" font-weight="normal" fill="#000"  stroke="#000" stroke-width="0.1">STC5</text>
<text transform="translate(276.82,733.60) scale(0.9879,1)" font-size="12.273" font-weight="normal" fill="#000"  stroke="#000" stroke-width="0.1">2070</text>
<line x1="287.50" y1="733.80" x2="287.88" y2="755.70" stroke="#000" stroke-width="1.15"/><polygon points="288.00,762.70 285.35,754.24 290.35,754.16" fill="#000"/>
<text transform="translate(194.62,798.10) scale(1.0003,1)" font-size="12.121" font-weight="normal" fill="#000"  stroke="#000" stroke-width="0.1">2080</text>
<line x1="209.40" y1="800.80" x2="230.10" y2="821.10" stroke="#000" stroke-width="1.15"/><polygon points="235.10,826.00 227.28,821.83 230.78,818.26" fill="#000"/>
<text transform="translate(370.32,709.40) scale(0.9917,1)" font-size="12.121" font-weight="normal" fill="#000"  stroke="#000" stroke-width="0.1">2058</text>
<line x1="373.60" y1="709.30" x2="357.03" y2="728.86" stroke="#000" stroke-width="1.15"/><polygon points="352.50,734.20 356.09,726.10 359.90,729.33" fill="#000"/>
<text transform="translate(178.66,907.00) scale(0.9705,1)" font-size="11.212" font-weight="normal" fill="#000"  stroke="#000" stroke-width="0.16">2090</text>
<text transform="translate(229.80,907.00) scale(0.9705,1)" font-size="11.212" font-weight="normal" fill="#000"  stroke="#000" stroke-width="0.16">2080</text>
<text transform="translate(280.93,907.00) scale(0.9705,1)" font-size="11.212" font-weight="normal" fill="#000"  stroke="#000" stroke-width="0.16">2070</text>
<text transform="translate(332.06,907.00) scale(0.9705,1)" font-size="11.212" font-weight="normal" fill="#000"  stroke="#000" stroke-width="0.16">2060</text>
<text transform="translate(383.20,907.00) scale(0.9705,1)" font-size="11.212" font-weight="normal" fill="#000"  stroke="#000" stroke-width="0.16">2050</text>
<text transform="translate(434.33,907.00) scale(0.9705,1)" font-size="11.212" font-weight="normal" fill="#000"  stroke="#000" stroke-width="0.16">2040</text>
<text transform="translate(485.46,907.00) scale(0.9705,1)" font-size="11.212" font-weight="normal" fill="#000"  stroke="#000" stroke-width="0.16">2030</text>
<text transform="translate(290.88,927.80) scale(1.0216,1)" font-size="11.692" font-weight="bold">Wavenumber (Cm<tspan font-size="7.25" dy="-4.21">-1</tspan><tspan dy="4.21">)</tspan></text>
<text transform="translate(175.40,796.26) rotate(-90) scale(1.0528,1)" font-size="11.286" font-weight="bold">Intensity (a.u.)</text>
<rect x="512.6" y="628.6" width="157.1" height="111.6" fill="#fff" stroke="#9a9a9a" stroke-width="1"/>
<line x1="514" y1="640.80" x2="556.8" y2="640.80" stroke="#000" stroke-width="2.3"/>
<text x="560.4" y="646.90" font-size="18" stroke="#000" stroke-width="0.15">Experimental</text>
<line x1="514" y1="662.75" x2="556.8" y2="662.75" stroke="#ff0000" stroke-width="1.7"/>
<text x="560.4" y="668.85" font-size="18" stroke="#000" stroke-width="0.15">Contact ions</text>
<line x1="514" y1="684.70" x2="556.8" y2="684.70" stroke="#0000ff" stroke-width="1.9"/>
<text x="560.4" y="690.80" font-size="18" stroke="#000" stroke-width="0.15">Ion aggregates</text>
<line x1="514" y1="706.65" x2="556.8" y2="706.65" stroke="#00ff00" stroke-width="1.9"/>
<text x="560.4" y="712.75" font-size="18" stroke="#000" stroke-width="0.15">Free ions</text>
<line x1="514" y1="728.60" x2="556.8" y2="728.60" stroke="#00ffff" stroke-width="2.5" stroke-dasharray="15.7 16.8"/>
<text x="560.4" y="734.70" font-size="18" stroke="#000" stroke-width="0.15">Fitting</text>
</svg>
</body></html>
